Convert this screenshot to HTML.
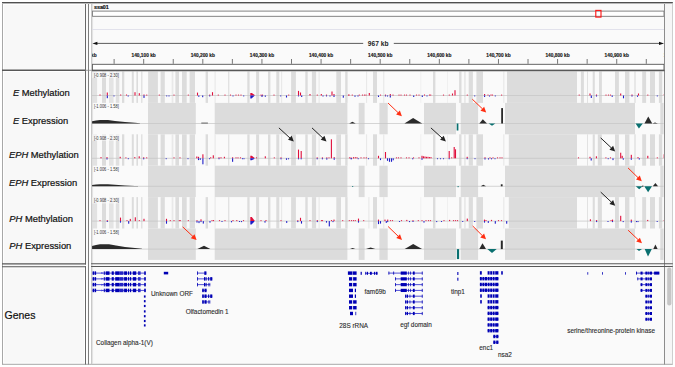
<!DOCTYPE html>
<html><head><meta charset="utf-8"><style>
html,body{margin:0;padding:0;background:#fff;overflow:hidden;}
svg{display:block;font-family:"Liberation Sans",sans-serif;}
</style></head><body>
<svg width="675" height="367" viewBox="0 0 675 367">
<defs><clipPath id="dclip"><rect x="92" y="3" width="571.6" height="360"/></clipPath></defs>
<rect x="0" y="0" width="675" height="367" fill="#ffffff"/>
<rect x="2" y="2" width="83.5" height="362.5" fill="#f8f8f8"/>
<rect x="91.5" y="2" width="573" height="362.5" fill="#fafafa"/>
<line x1="92.6" y1="4" x2="92.6" y2="363.5" stroke="#e4e4e4" stroke-width="1" />
<rect x="665" y="2" width="7.5" height="362.5" fill="#f6f6f6"/>
<rect x="92.5" y="11.1" width="571.5" height="5.2" fill="#ffffff" stroke="#777" stroke-width="0.9"/>
<rect x="595.8" y="10.4" width="5.2" height="6.7" fill="none" stroke="#ff1010" stroke-width="1.1"/>
<text x="94.0" y="9.0" font-size="5.4" font-weight="bold" fill="#111" stroke="#111" stroke-width="0.2" textLength="14.8" lengthAdjust="spacingAndGlyphs">ssa01</text>
<line x1="92" y1="29.5" x2="664" y2="29.5" stroke="#e2e2ec" stroke-width="1"/>
<line x1="95" y1="43.4" x2="363.2" y2="43.4" stroke="#333" stroke-width="0.8"/>
<line x1="393.8" y1="43.4" x2="661" y2="43.4" stroke="#333" stroke-width="0.8"/>
<path d="M92.4,43.4 L97.4,41.8 L97.4,45.0 Z" fill="#111"/>
<path d="M664,43.4 L659,41.8 L659,45.0 Z" fill="#111"/>
<text x="378.2" y="45.7" font-size="6.65" font-weight="bold" fill="#222" text-anchor="middle">967 kb</text>
<g clip-path="url(#dclip)">
<text x="84.55" y="56.6" font-size="4.8" font-weight="bold" fill="#1a1a1a" stroke="#1a1a1a" stroke-width="0.15" text-anchor="middle">140,000 kb</text>
<line x1="114.11" y1="59" x2="114.11" y2="63.8" stroke="#555" stroke-width="0.8"/>
<line x1="143.68" y1="59" x2="143.68" y2="63.8" stroke="#555" stroke-width="0.8"/>
<text x="143.68" y="56.6" font-size="4.8" font-weight="bold" fill="#1a1a1a" stroke="#1a1a1a" stroke-width="0.15" text-anchor="middle">140,100 kb</text>
<line x1="173.24" y1="59" x2="173.24" y2="63.8" stroke="#555" stroke-width="0.8"/>
<line x1="202.81" y1="59" x2="202.81" y2="63.8" stroke="#555" stroke-width="0.8"/>
<text x="202.81" y="56.6" font-size="4.8" font-weight="bold" fill="#1a1a1a" stroke="#1a1a1a" stroke-width="0.15" text-anchor="middle">140,200 kb</text>
<line x1="232.37" y1="59" x2="232.37" y2="63.8" stroke="#555" stroke-width="0.8"/>
<line x1="261.94" y1="59" x2="261.94" y2="63.8" stroke="#555" stroke-width="0.8"/>
<text x="261.94" y="56.6" font-size="4.8" font-weight="bold" fill="#1a1a1a" stroke="#1a1a1a" stroke-width="0.15" text-anchor="middle">140,300 kb</text>
<line x1="291.50" y1="59" x2="291.50" y2="63.8" stroke="#555" stroke-width="0.8"/>
<line x1="321.07" y1="59" x2="321.07" y2="63.8" stroke="#555" stroke-width="0.8"/>
<text x="321.07" y="56.6" font-size="4.8" font-weight="bold" fill="#1a1a1a" stroke="#1a1a1a" stroke-width="0.15" text-anchor="middle">140,400 kb</text>
<line x1="350.63" y1="59" x2="350.63" y2="63.8" stroke="#555" stroke-width="0.8"/>
<line x1="380.20" y1="59" x2="380.20" y2="63.8" stroke="#555" stroke-width="0.8"/>
<text x="380.20" y="56.6" font-size="4.8" font-weight="bold" fill="#1a1a1a" stroke="#1a1a1a" stroke-width="0.15" text-anchor="middle">140,500 kb</text>
<line x1="409.76" y1="59" x2="409.76" y2="63.8" stroke="#555" stroke-width="0.8"/>
<line x1="439.33" y1="59" x2="439.33" y2="63.8" stroke="#555" stroke-width="0.8"/>
<text x="439.33" y="56.6" font-size="4.8" font-weight="bold" fill="#1a1a1a" stroke="#1a1a1a" stroke-width="0.15" text-anchor="middle">140,600 kb</text>
<line x1="468.89" y1="59" x2="468.89" y2="63.8" stroke="#555" stroke-width="0.8"/>
<line x1="498.46" y1="59" x2="498.46" y2="63.8" stroke="#555" stroke-width="0.8"/>
<text x="498.46" y="56.6" font-size="4.8" font-weight="bold" fill="#1a1a1a" stroke="#1a1a1a" stroke-width="0.15" text-anchor="middle">140,700 kb</text>
<line x1="528.02" y1="59" x2="528.02" y2="63.8" stroke="#555" stroke-width="0.8"/>
<line x1="557.59" y1="59" x2="557.59" y2="63.8" stroke="#555" stroke-width="0.8"/>
<text x="557.59" y="56.6" font-size="4.8" font-weight="bold" fill="#1a1a1a" stroke="#1a1a1a" stroke-width="0.15" text-anchor="middle">140,800 kb</text>
<line x1="587.15" y1="59" x2="587.15" y2="63.8" stroke="#555" stroke-width="0.8"/>
<line x1="616.72" y1="59" x2="616.72" y2="63.8" stroke="#555" stroke-width="0.8"/>
<text x="616.72" y="56.6" font-size="4.8" font-weight="bold" fill="#1a1a1a" stroke="#1a1a1a" stroke-width="0.15" text-anchor="middle">140,900 kb</text>
<line x1="646.29" y1="59" x2="646.29" y2="63.8" stroke="#555" stroke-width="0.8"/>
<text x="675.85" y="56.6" font-size="4.8" font-weight="bold" fill="#1a1a1a" stroke="#1a1a1a" stroke-width="0.15" text-anchor="middle">141,000 kb</text>
</g>
<rect x="92.5" y="64.3" width="571.5" height="6" fill="#ffffff" stroke="#555" stroke-width="0.9"/>
<g clip-path="url(#dclip)">
<rect x="91.8" y="71.50" width="5.30" height="31.40" fill="#e2e2e2"/>
<rect x="102" y="71.50" width="4.00" height="31.40" fill="#dcdcdc"/>
<rect x="109" y="71.50" width="4.60" height="31.40" fill="#e4e4e4"/>
<rect x="115.8" y="71.50" width="3.50" height="31.40" fill="#e0e0e0"/>
<rect x="122" y="71.50" width="2.30" height="31.40" fill="#dcdcdc"/>
<rect x="131.8" y="71.50" width="2.00" height="31.40" fill="#dcdcdc"/>
<rect x="136.4" y="71.50" width="1.60" height="31.40" fill="#dcdcdc"/>
<rect x="141.2" y="71.50" width="1.20" height="31.40" fill="#dcdcdc"/>
<rect x="148.1" y="71.50" width="9.80" height="31.40" fill="#dcdcdc"/>
<rect x="160.6" y="71.50" width="4.20" height="31.40" fill="#dcdcdc"/>
<rect x="171.7" y="71.50" width="1.70" height="31.40" fill="#e9e9e9"/>
<rect x="175.4" y="71.50" width="3.60" height="31.40" fill="#dcdcdc"/>
<rect x="182" y="71.50" width="4.70" height="31.40" fill="#dcdcdc"/>
<rect x="189.6" y="71.50" width="5.40" height="31.40" fill="#dcdcdc"/>
<rect x="205.6" y="71.50" width="2.40" height="31.40" fill="#dcdcdc"/>
<rect x="214.5" y="71.50" width="1.20" height="31.40" fill="#e9e9e9"/>
<rect x="228.2" y="71.50" width="1.10" height="31.40" fill="#dcdcdc"/>
<rect x="247.3" y="71.50" width="2.30" height="31.40" fill="#dcdcdc"/>
<rect x="256.1" y="71.50" width="3.00" height="31.40" fill="#dcdcdc"/>
<rect x="268" y="71.50" width="2.40" height="31.40" fill="#dcdcdc"/>
<rect x="276.3" y="71.50" width="3.00" height="31.40" fill="#dcdcdc"/>
<rect x="281" y="71.50" width="1.20" height="31.40" fill="#e9e9e9"/>
<rect x="291.1" y="71.50" width="4.80" height="31.40" fill="#dcdcdc"/>
<rect x="305.3" y="71.50" width="2.40" height="31.40" fill="#dcdcdc"/>
<rect x="311.9" y="71.50" width="4.20" height="31.40" fill="#dcdcdc"/>
<rect x="318.5" y="71.50" width="1.20" height="31.40" fill="#e9e9e9"/>
<rect x="336.3" y="71.50" width="4.70" height="31.40" fill="#dcdcdc"/>
<rect x="345.2" y="71.50" width="2.40" height="31.40" fill="#dcdcdc"/>
<rect x="366" y="71.50" width="1.10" height="31.40" fill="#e9e9e9"/>
<rect x="373" y="71.50" width="4.00" height="31.40" fill="#dcdcdc"/>
<rect x="383.1" y="71.50" width="1.20" height="31.40" fill="#e9e9e9"/>
<rect x="420.6" y="71.50" width="0.60" height="31.40" fill="#e9e9e9"/>
<rect x="433" y="71.50" width="2.40" height="31.40" fill="#dcdcdc"/>
<rect x="447.3" y="71.50" width="0.60" height="31.40" fill="#e9e9e9"/>
<rect x="459.1" y="71.50" width="2.40" height="31.40" fill="#dcdcdc"/>
<rect x="464" y="71.50" width="1.80" height="31.40" fill="#e9e9e9"/>
<rect x="468.7" y="71.50" width="4.20" height="31.40" fill="#dcdcdc"/>
<rect x="476.4" y="71.50" width="6.60" height="31.40" fill="#dcdcdc"/>
<rect x="503.2" y="71.50" width="1.20" height="31.40" fill="#e9e9e9"/>
<rect x="507" y="71.50" width="70.00" height="31.40" fill="#dcdcdc"/>
<rect x="580.9" y="71.50" width="3.00" height="31.40" fill="#dcdcdc"/>
<rect x="587.2" y="71.50" width="0.80" height="31.40" fill="#dcdcdc"/>
<rect x="592.7" y="71.50" width="2.10" height="31.40" fill="#dcdcdc"/>
<rect x="599" y="71.50" width="2.90" height="31.40" fill="#dcdcdc"/>
<rect x="615" y="71.50" width="3.90" height="31.40" fill="#dcdcdc"/>
<rect x="625" y="71.50" width="4.40" height="31.40" fill="#dcdcdc"/>
<rect x="634.4" y="71.50" width="1.20" height="31.40" fill="#dcdcdc"/>
<rect x="642.2" y="71.50" width="3.90" height="31.40" fill="#dcdcdc"/>
<rect x="650" y="71.50" width="5.00" height="31.40" fill="#dcdcdc"/>
<rect x="658.9" y="71.50" width="3.30" height="31.40" fill="#dcdcdc"/>
<rect x="148" y="102.90" width="47.80" height="31.40" fill="#dcdcdc"/>
<rect x="214.7" y="102.90" width="132.70" height="31.40" fill="#dcdcdc"/>
<rect x="358.7" y="102.90" width="5.90" height="31.40" fill="#dcdcdc"/>
<rect x="379.4" y="102.90" width="8.30" height="31.40" fill="#dcdcdc"/>
<rect x="424" y="102.90" width="32.00" height="31.40" fill="#dcdcdc"/>
<rect x="460.7" y="102.90" width="17.40" height="31.40" fill="#dcdcdc"/>
<rect x="505" y="102.90" width="130.00" height="31.40" fill="#dcdcdc"/>
<rect x="660.3" y="102.90" width="3.70" height="31.40" fill="#dcdcdc"/>
<line x1="92" y1="95.50" x2="664" y2="95.50" stroke="#c4c4c4" stroke-width="0.7"/>
<line x1="92" y1="123.50" x2="664" y2="123.50" stroke="#c4c4c4" stroke-width="0.7"/>
<rect x="92" y="71.50" width="27.6" height="6.4" fill="#fbfbfb" fill-opacity="0.6"/>
<text x="93.9" y="76.70" font-size="4.6" fill="#333" textLength="24.9" lengthAdjust="spacingAndGlyphs">[-0.908 - 2.30]</text>
<text x="93.9" y="108.10" font-size="4.6" fill="#333" textLength="24.9" lengthAdjust="spacingAndGlyphs">[-1.006 - 1.58]</text>
<rect x="91.8" y="134.30" width="5.30" height="31.40" fill="#e2e2e2"/>
<rect x="102" y="134.30" width="4.00" height="31.40" fill="#dcdcdc"/>
<rect x="109" y="134.30" width="4.60" height="31.40" fill="#e4e4e4"/>
<rect x="115.8" y="134.30" width="3.50" height="31.40" fill="#e0e0e0"/>
<rect x="122" y="134.30" width="2.30" height="31.40" fill="#dcdcdc"/>
<rect x="131.8" y="134.30" width="2.00" height="31.40" fill="#dcdcdc"/>
<rect x="136.4" y="134.30" width="1.60" height="31.40" fill="#dcdcdc"/>
<rect x="141.2" y="134.30" width="1.20" height="31.40" fill="#dcdcdc"/>
<rect x="148.1" y="134.30" width="9.80" height="31.40" fill="#dcdcdc"/>
<rect x="160.6" y="134.30" width="4.20" height="31.40" fill="#dcdcdc"/>
<rect x="171.7" y="134.30" width="1.70" height="31.40" fill="#e9e9e9"/>
<rect x="175.4" y="134.30" width="3.60" height="31.40" fill="#dcdcdc"/>
<rect x="182" y="134.30" width="4.70" height="31.40" fill="#dcdcdc"/>
<rect x="189.6" y="134.30" width="5.40" height="31.40" fill="#dcdcdc"/>
<rect x="205.6" y="134.30" width="2.40" height="31.40" fill="#dcdcdc"/>
<rect x="214.5" y="134.30" width="1.20" height="31.40" fill="#e9e9e9"/>
<rect x="228.2" y="134.30" width="1.10" height="31.40" fill="#dcdcdc"/>
<rect x="247.3" y="134.30" width="2.30" height="31.40" fill="#dcdcdc"/>
<rect x="256.1" y="134.30" width="3.00" height="31.40" fill="#dcdcdc"/>
<rect x="268" y="134.30" width="2.40" height="31.40" fill="#dcdcdc"/>
<rect x="276.3" y="134.30" width="3.00" height="31.40" fill="#dcdcdc"/>
<rect x="281" y="134.30" width="1.20" height="31.40" fill="#e9e9e9"/>
<rect x="291.1" y="134.30" width="4.80" height="31.40" fill="#dcdcdc"/>
<rect x="305.3" y="134.30" width="2.40" height="31.40" fill="#dcdcdc"/>
<rect x="311.9" y="134.30" width="4.20" height="31.40" fill="#dcdcdc"/>
<rect x="318.5" y="134.30" width="1.20" height="31.40" fill="#e9e9e9"/>
<rect x="336.3" y="134.30" width="4.70" height="31.40" fill="#dcdcdc"/>
<rect x="345.2" y="134.30" width="2.40" height="31.40" fill="#dcdcdc"/>
<rect x="366" y="134.30" width="1.10" height="31.40" fill="#e9e9e9"/>
<rect x="373" y="134.30" width="4.00" height="31.40" fill="#dcdcdc"/>
<rect x="383.1" y="134.30" width="1.20" height="31.40" fill="#e9e9e9"/>
<rect x="420.6" y="134.30" width="0.60" height="31.40" fill="#e9e9e9"/>
<rect x="433" y="134.30" width="2.40" height="31.40" fill="#dcdcdc"/>
<rect x="447.3" y="134.30" width="0.60" height="31.40" fill="#e9e9e9"/>
<rect x="459.1" y="134.30" width="2.40" height="31.40" fill="#dcdcdc"/>
<rect x="464" y="134.30" width="1.80" height="31.40" fill="#e9e9e9"/>
<rect x="468.7" y="134.30" width="4.20" height="31.40" fill="#dcdcdc"/>
<rect x="476.4" y="134.30" width="6.60" height="31.40" fill="#dcdcdc"/>
<rect x="503.2" y="134.30" width="1.20" height="31.40" fill="#e9e9e9"/>
<rect x="508.8" y="134.30" width="68.20" height="31.40" fill="#dcdcdc"/>
<rect x="587.2" y="134.30" width="0.80" height="31.40" fill="#dcdcdc"/>
<rect x="592.7" y="134.30" width="2.10" height="31.40" fill="#dcdcdc"/>
<rect x="597.8" y="134.30" width="4.10" height="31.40" fill="#dcdcdc"/>
<rect x="615" y="134.30" width="3.90" height="31.40" fill="#dcdcdc"/>
<rect x="625" y="134.30" width="4.40" height="31.40" fill="#dcdcdc"/>
<rect x="634.4" y="134.30" width="1.20" height="31.40" fill="#dcdcdc"/>
<rect x="642.2" y="134.30" width="3.90" height="31.40" fill="#dcdcdc"/>
<rect x="650" y="134.30" width="5.00" height="31.40" fill="#dcdcdc"/>
<rect x="658.9" y="134.30" width="3.30" height="31.40" fill="#dcdcdc"/>
<rect x="148" y="165.70" width="47.80" height="31.40" fill="#dcdcdc"/>
<rect x="214.7" y="165.70" width="132.70" height="31.40" fill="#dcdcdc"/>
<rect x="358.7" y="165.70" width="5.90" height="31.40" fill="#dcdcdc"/>
<rect x="379.4" y="165.70" width="8.30" height="31.40" fill="#dcdcdc"/>
<rect x="424" y="165.70" width="32.00" height="31.40" fill="#dcdcdc"/>
<rect x="460.7" y="165.70" width="17.40" height="31.40" fill="#dcdcdc"/>
<rect x="505" y="165.70" width="130.00" height="31.40" fill="#dcdcdc"/>
<rect x="660.3" y="165.70" width="3.70" height="31.40" fill="#dcdcdc"/>
<line x1="92" y1="158.30" x2="664" y2="158.30" stroke="#c4c4c4" stroke-width="0.7"/>
<line x1="92" y1="186.30" x2="664" y2="186.30" stroke="#c4c4c4" stroke-width="0.7"/>
<rect x="92" y="134.30" width="27.6" height="6.4" fill="#fbfbfb" fill-opacity="0.6"/>
<text x="93.9" y="139.50" font-size="4.6" fill="#333" textLength="24.9" lengthAdjust="spacingAndGlyphs">[-0.908 - 2.30]</text>
<text x="93.9" y="170.90" font-size="4.6" fill="#333" textLength="24.9" lengthAdjust="spacingAndGlyphs">[-1.006 - 1.58]</text>
<rect x="91.8" y="197.10" width="5.30" height="31.40" fill="#e2e2e2"/>
<rect x="102" y="197.10" width="4.00" height="31.40" fill="#dcdcdc"/>
<rect x="109" y="197.10" width="4.60" height="31.40" fill="#e4e4e4"/>
<rect x="115.8" y="197.10" width="3.50" height="31.40" fill="#e0e0e0"/>
<rect x="122" y="197.10" width="2.30" height="31.40" fill="#dcdcdc"/>
<rect x="131.8" y="197.10" width="2.00" height="31.40" fill="#dcdcdc"/>
<rect x="136.4" y="197.10" width="1.60" height="31.40" fill="#dcdcdc"/>
<rect x="141.2" y="197.10" width="1.20" height="31.40" fill="#dcdcdc"/>
<rect x="148.1" y="197.10" width="9.80" height="31.40" fill="#dcdcdc"/>
<rect x="160.6" y="197.10" width="4.20" height="31.40" fill="#dcdcdc"/>
<rect x="171.7" y="197.10" width="1.70" height="31.40" fill="#e9e9e9"/>
<rect x="175.4" y="197.10" width="3.60" height="31.40" fill="#dcdcdc"/>
<rect x="182" y="197.10" width="4.70" height="31.40" fill="#dcdcdc"/>
<rect x="189.6" y="197.10" width="5.40" height="31.40" fill="#dcdcdc"/>
<rect x="205.6" y="197.10" width="2.40" height="31.40" fill="#dcdcdc"/>
<rect x="214.5" y="197.10" width="1.20" height="31.40" fill="#e9e9e9"/>
<rect x="228.2" y="197.10" width="1.10" height="31.40" fill="#dcdcdc"/>
<rect x="247.3" y="197.10" width="2.30" height="31.40" fill="#dcdcdc"/>
<rect x="256.1" y="197.10" width="3.00" height="31.40" fill="#dcdcdc"/>
<rect x="268" y="197.10" width="2.40" height="31.40" fill="#dcdcdc"/>
<rect x="276.3" y="197.10" width="3.00" height="31.40" fill="#dcdcdc"/>
<rect x="281" y="197.10" width="1.20" height="31.40" fill="#e9e9e9"/>
<rect x="291.1" y="197.10" width="4.80" height="31.40" fill="#dcdcdc"/>
<rect x="305.3" y="197.10" width="2.40" height="31.40" fill="#dcdcdc"/>
<rect x="311.9" y="197.10" width="4.20" height="31.40" fill="#dcdcdc"/>
<rect x="318.5" y="197.10" width="1.20" height="31.40" fill="#e9e9e9"/>
<rect x="336.3" y="197.10" width="4.70" height="31.40" fill="#dcdcdc"/>
<rect x="345.2" y="197.10" width="2.40" height="31.40" fill="#dcdcdc"/>
<rect x="368.3" y="197.10" width="1.20" height="31.40" fill="#e9e9e9"/>
<rect x="373" y="197.10" width="4.00" height="31.40" fill="#dcdcdc"/>
<rect x="383.1" y="197.10" width="1.20" height="31.40" fill="#e9e9e9"/>
<rect x="420.6" y="197.10" width="0.60" height="31.40" fill="#e9e9e9"/>
<rect x="433" y="197.10" width="2.40" height="31.40" fill="#dcdcdc"/>
<rect x="447.3" y="197.10" width="0.60" height="31.40" fill="#e9e9e9"/>
<rect x="459.1" y="197.10" width="2.40" height="31.40" fill="#dcdcdc"/>
<rect x="464" y="197.10" width="1.80" height="31.40" fill="#e9e9e9"/>
<rect x="468.7" y="197.10" width="4.20" height="31.40" fill="#dcdcdc"/>
<rect x="476.4" y="197.10" width="6.60" height="31.40" fill="#dcdcdc"/>
<rect x="503.2" y="197.10" width="1.20" height="31.40" fill="#e9e9e9"/>
<rect x="508.8" y="197.10" width="68.20" height="31.40" fill="#dcdcdc"/>
<rect x="587.2" y="197.10" width="0.80" height="31.40" fill="#dcdcdc"/>
<rect x="592.7" y="197.10" width="2.10" height="31.40" fill="#dcdcdc"/>
<rect x="597.8" y="197.10" width="4.10" height="31.40" fill="#dcdcdc"/>
<rect x="615" y="197.10" width="3.90" height="31.40" fill="#dcdcdc"/>
<rect x="625" y="197.10" width="4.40" height="31.40" fill="#dcdcdc"/>
<rect x="634.4" y="197.10" width="1.20" height="31.40" fill="#dcdcdc"/>
<rect x="642.2" y="197.10" width="3.90" height="31.40" fill="#dcdcdc"/>
<rect x="650" y="197.10" width="5.00" height="31.40" fill="#dcdcdc"/>
<rect x="658.9" y="197.10" width="3.30" height="31.40" fill="#dcdcdc"/>
<rect x="148" y="228.50" width="47.80" height="31.40" fill="#dcdcdc"/>
<rect x="214.7" y="228.50" width="132.70" height="31.40" fill="#dcdcdc"/>
<rect x="358.7" y="228.50" width="5.90" height="31.40" fill="#dcdcdc"/>
<rect x="379.4" y="228.50" width="8.30" height="31.40" fill="#dcdcdc"/>
<rect x="424" y="228.50" width="32.00" height="31.40" fill="#dcdcdc"/>
<rect x="460.7" y="228.50" width="17.40" height="31.40" fill="#dcdcdc"/>
<rect x="505" y="228.50" width="130.00" height="31.40" fill="#dcdcdc"/>
<rect x="660.3" y="228.50" width="3.70" height="31.40" fill="#dcdcdc"/>
<line x1="92" y1="221.10" x2="664" y2="221.10" stroke="#c4c4c4" stroke-width="0.7"/>
<line x1="92" y1="249.10" x2="664" y2="249.10" stroke="#c4c4c4" stroke-width="0.7"/>
<rect x="92" y="197.10" width="27.6" height="6.4" fill="#fbfbfb" fill-opacity="0.6"/>
<text x="93.9" y="202.30" font-size="4.6" fill="#333" textLength="24.9" lengthAdjust="spacingAndGlyphs">[-0.908 - 2.30]</text>
<text x="93.9" y="233.70" font-size="4.6" fill="#333" textLength="24.9" lengthAdjust="spacingAndGlyphs">[-1.006 - 1.58]</text>
</g>
<g clip-path="url(#dclip)">
<rect x="99.45" y="94.50" width="1.1" height="1.00" fill="#e0103c"/>
<rect x="106.75" y="92.50" width="1.1" height="3.00" fill="#e0103c"/>
<rect x="106.75" y="95.50" width="1.1" height="2.70" fill="#1e1ec8"/>
<rect x="113.45" y="95.50" width="1.1" height="0.90" fill="#1e1ec8"/>
<rect x="120.15" y="94.50" width="1.1" height="1.00" fill="#e0103c"/>
<rect x="125.95" y="94.50" width="1.1" height="1.00" fill="#e0103c"/>
<rect x="127.65" y="95.50" width="1.1" height="1.00" fill="#1e1ec8"/>
<rect x="134.45" y="92.20" width="1.1" height="3.30" fill="#e0103c"/>
<rect x="138.75" y="93.20" width="1.1" height="2.30" fill="#e0103c"/>
<rect x="143.45" y="94.50" width="1.1" height="1.00" fill="#e0103c"/>
<rect x="143.45" y="95.50" width="1.1" height="2.40" fill="#1e1ec8"/>
<rect x="146.15" y="94.60" width="1.1" height="0.90" fill="#e0103c"/>
<rect x="158.75" y="94.60" width="1.1" height="0.90" fill="#e0103c"/>
<rect x="166.15" y="95.50" width="1.1" height="0.90" fill="#1e1ec8"/>
<rect x="168.45" y="95.50" width="1.1" height="0.90" fill="#1e1ec8"/>
<rect x="173.45" y="94.60" width="1.1" height="0.90" fill="#e0103c"/>
<rect x="187.75" y="94.60" width="1.1" height="0.90" fill="#e0103c"/>
<rect x="196.95" y="92.60" width="1.1" height="2.90" fill="#e0103c"/>
<rect x="198.25" y="95.50" width="1.1" height="1.30" fill="#1e1ec8"/>
<rect x="202.15" y="95.50" width="1.1" height="1.70" fill="#1e1ec8"/>
<rect x="209.15" y="94.60" width="1.1" height="0.90" fill="#e0103c"/>
<rect x="209.15" y="95.50" width="1.1" height="0.90" fill="#1e1ec8"/>
<rect x="211.95" y="92.20" width="1.1" height="3.30" fill="#e0103c"/>
<rect x="217.75" y="94.60" width="1.1" height="0.90" fill="#e0103c"/>
<rect x="224.45" y="94.60" width="1.1" height="0.90" fill="#e0103c"/>
<rect x="229.95" y="94.60" width="1.1" height="0.90" fill="#e0103c"/>
<rect x="232.45" y="95.50" width="1.1" height="0.90" fill="#1e1ec8"/>
<rect x="235.45" y="94.60" width="1.1" height="0.90" fill="#e0103c"/>
<rect x="237.95" y="94.60" width="1.1" height="0.90" fill="#e0103c"/>
<rect x="240.45" y="94.60" width="1.1" height="0.90" fill="#e0103c"/>
<rect x="243.15" y="95.50" width="1.1" height="0.90" fill="#1e1ec8"/>
<rect x="260.95" y="95.50" width="1.1" height="1.00" fill="#1e1ec8"/>
<rect x="261.95" y="94.60" width="1.1" height="0.90" fill="#e0103c"/>
<rect x="260.45" y="94.60" width="1.1" height="0.90" fill="#e0103c"/>
<rect x="261.95" y="95.50" width="1.1" height="1.00" fill="#1e1ec8"/>
<rect x="264.75" y="95.50" width="1.1" height="1.30" fill="#1e1ec8"/>
<rect x="273.45" y="94.60" width="1.1" height="0.90" fill="#e0103c"/>
<rect x="280.15" y="95.50" width="1.1" height="0.90" fill="#1e1ec8"/>
<rect x="285.95" y="95.50" width="1.1" height="2.00" fill="#1e1ec8"/>
<rect x="288.15" y="94.60" width="1.1" height="0.90" fill="#e0103c"/>
<rect x="297.95" y="90.90" width="1.1" height="4.60" fill="#e0103c"/>
<rect x="297.95" y="95.50" width="1.1" height="0.90" fill="#1e1ec8"/>
<rect x="299.95" y="92.50" width="1.1" height="3.00" fill="#e0103c"/>
<rect x="301.15" y="95.50" width="1.1" height="1.50" fill="#1e1ec8"/>
<rect x="309.45" y="94.00" width="1.1" height="1.50" fill="#e0103c"/>
<rect x="316.75" y="94.60" width="1.1" height="0.90" fill="#e0103c"/>
<rect x="320.75" y="94.00" width="1.1" height="1.50" fill="#e0103c"/>
<rect x="322.45" y="95.50" width="1.1" height="1.00" fill="#1e1ec8"/>
<rect x="325.95" y="94.60" width="1.1" height="0.90" fill="#e0103c"/>
<rect x="325.95" y="95.50" width="1.1" height="0.90" fill="#1e1ec8"/>
<rect x="329.45" y="95.50" width="1.1" height="1.00" fill="#1e1ec8"/>
<rect x="331.45" y="91.50" width="1.1" height="4.00" fill="#e0103c"/>
<rect x="333.45" y="94.00" width="1.1" height="1.50" fill="#e0103c"/>
<rect x="333.45" y="95.50" width="1.1" height="1.50" fill="#1e1ec8"/>
<rect x="342.75" y="95.50" width="1.1" height="2.20" fill="#1e1ec8"/>
<rect x="348.15" y="94.60" width="1.1" height="0.90" fill="#e0103c"/>
<rect x="348.45" y="94.60" width="1.1" height="0.90" fill="#e0103c"/>
<rect x="351.75" y="94.60" width="1.1" height="0.90" fill="#e0103c"/>
<rect x="354.45" y="95.50" width="1.1" height="1.30" fill="#1e1ec8"/>
<rect x="357.45" y="95.50" width="1.1" height="1.00" fill="#1e1ec8"/>
<rect x="358.75" y="94.60" width="1.1" height="0.90" fill="#e0103c"/>
<rect x="361.95" y="94.60" width="1.1" height="0.90" fill="#e0103c"/>
<rect x="363.95" y="94.60" width="1.1" height="0.90" fill="#e0103c"/>
<rect x="365.45" y="94.60" width="1.1" height="0.90" fill="#e0103c"/>
<rect x="368.75" y="93.00" width="1.1" height="2.50" fill="#e0103c"/>
<rect x="377.95" y="95.50" width="1.1" height="1.50" fill="#1e1ec8"/>
<rect x="379.95" y="94.60" width="1.1" height="0.90" fill="#e0103c"/>
<rect x="384.95" y="94.60" width="1.1" height="0.90" fill="#e0103c"/>
<rect x="384.95" y="95.50" width="1.1" height="0.90" fill="#1e1ec8"/>
<rect x="386.95" y="95.50" width="1.1" height="1.00" fill="#1e1ec8"/>
<rect x="389.75" y="94.00" width="1.1" height="1.50" fill="#e0103c"/>
<rect x="389.75" y="95.50" width="1.1" height="2.00" fill="#1e1ec8"/>
<rect x="392.45" y="94.60" width="1.1" height="0.90" fill="#e0103c"/>
<rect x="398.45" y="94.60" width="1.1" height="0.90" fill="#e0103c"/>
<rect x="400.45" y="94.60" width="1.1" height="0.90" fill="#e0103c"/>
<rect x="403.95" y="94.60" width="1.1" height="0.90" fill="#e0103c"/>
<rect x="405.95" y="94.60" width="1.1" height="0.90" fill="#e0103c"/>
<rect x="409.45" y="94.60" width="1.1" height="0.90" fill="#e0103c"/>
<rect x="413.15" y="95.50" width="1.1" height="1.50" fill="#1e1ec8"/>
<rect x="415.95" y="94.60" width="1.1" height="0.90" fill="#e0103c"/>
<rect x="418.45" y="94.60" width="1.1" height="0.90" fill="#e0103c"/>
<rect x="421.75" y="95.50" width="1.1" height="1.50" fill="#1e1ec8"/>
<rect x="423.95" y="94.50" width="1.1" height="1.00" fill="#e0103c"/>
<rect x="426.45" y="95.50" width="1.1" height="0.90" fill="#1e1ec8"/>
<rect x="428.95" y="94.60" width="1.1" height="0.90" fill="#e0103c"/>
<rect x="430.15" y="94.60" width="1.1" height="0.90" fill="#e0103c"/>
<rect x="442.95" y="94.60" width="1.1" height="0.90" fill="#e0103c"/>
<rect x="448.75" y="94.60" width="1.1" height="0.90" fill="#e0103c"/>
<rect x="451.95" y="93.50" width="1.1" height="2.00" fill="#e0103c"/>
<rect x="454.45" y="90.20" width="1.1" height="5.30" fill="#e0103c"/>
<rect x="466.75" y="94.60" width="1.1" height="0.90" fill="#e0103c"/>
<rect x="474.15" y="95.50" width="1.1" height="0.90" fill="#1e1ec8"/>
<rect x="484.05" y="94.00" width="1.1" height="1.50" fill="#e0103c"/>
<rect x="484.05" y="95.50" width="1.1" height="1.50" fill="#1e1ec8"/>
<rect x="487.45" y="94.60" width="1.1" height="0.90" fill="#e0103c"/>
<rect x="488.95" y="95.50" width="1.1" height="1.00" fill="#1e1ec8"/>
<rect x="490.45" y="94.50" width="1.1" height="1.00" fill="#e0103c"/>
<rect x="491.95" y="94.60" width="1.1" height="0.90" fill="#e0103c"/>
<rect x="494.75" y="95.50" width="1.1" height="0.90" fill="#1e1ec8"/>
<rect x="501.05" y="94.60" width="1.1" height="0.90" fill="#e0103c"/>
<rect x="578.65" y="94.60" width="1.1" height="0.90" fill="#e0103c"/>
<rect x="589.45" y="93.50" width="1.1" height="2.00" fill="#e0103c"/>
<rect x="590.75" y="95.50" width="1.1" height="2.50" fill="#1e1ec8"/>
<rect x="595.95" y="94.50" width="1.1" height="1.00" fill="#e0103c"/>
<rect x="595.95" y="95.50" width="1.1" height="1.00" fill="#1e1ec8"/>
<rect x="605.45" y="94.60" width="1.1" height="0.90" fill="#e0103c"/>
<rect x="607.95" y="94.60" width="1.1" height="0.90" fill="#e0103c"/>
<rect x="609.95" y="94.60" width="1.1" height="0.90" fill="#e0103c"/>
<rect x="611.65" y="95.50" width="1.1" height="1.40" fill="#1e1ec8"/>
<rect x="620.15" y="93.50" width="1.1" height="2.00" fill="#e0103c"/>
<rect x="622.95" y="95.50" width="1.1" height="2.80" fill="#1e1ec8"/>
<rect x="631.45" y="94.50" width="1.1" height="1.00" fill="#e0103c"/>
<rect x="631.45" y="95.50" width="1.1" height="1.00" fill="#1e1ec8"/>
<rect x="636.95" y="95.50" width="1.1" height="1.30" fill="#1e1ec8"/>
<rect x="637.95" y="93.50" width="1.1" height="2.00" fill="#e0103c"/>
<rect x="647.25" y="94.60" width="1.1" height="0.90" fill="#e0103c"/>
<rect x="656.75" y="95.50" width="1.1" height="0.90" fill="#1e1ec8"/>
<rect x="663.65" y="94.00" width="1.1" height="1.50" fill="#e0103c"/>
<rect x="100.45" y="157.10" width="1.1" height="1.20" fill="#e0103c"/>
<rect x="106.45" y="157.10" width="1.1" height="1.20" fill="#e0103c"/>
<rect x="106.45" y="158.30" width="1.1" height="1.20" fill="#1e1ec8"/>
<rect x="119.65" y="156.80" width="1.1" height="1.50" fill="#e0103c"/>
<rect x="125.35" y="157.40" width="1.1" height="0.90" fill="#e0103c"/>
<rect x="127.75" y="158.30" width="1.1" height="0.90" fill="#1e1ec8"/>
<rect x="134.25" y="157.10" width="1.1" height="1.20" fill="#e0103c"/>
<rect x="138.65" y="156.30" width="1.1" height="2.00" fill="#e0103c"/>
<rect x="143.15" y="157.30" width="1.1" height="1.00" fill="#e0103c"/>
<rect x="143.15" y="158.30" width="1.1" height="1.00" fill="#1e1ec8"/>
<rect x="146.15" y="157.40" width="1.1" height="0.90" fill="#e0103c"/>
<rect x="165.65" y="158.30" width="1.1" height="0.90" fill="#1e1ec8"/>
<rect x="173.45" y="157.40" width="1.1" height="0.90" fill="#e0103c"/>
<rect x="179.45" y="157.40" width="1.1" height="0.90" fill="#e0103c"/>
<rect x="187.45" y="158.30" width="1.1" height="0.90" fill="#1e1ec8"/>
<rect x="196.25" y="156.50" width="1.1" height="1.80" fill="#e0103c"/>
<rect x="197.95" y="156.80" width="1.1" height="1.50" fill="#e0103c"/>
<rect x="197.95" y="158.30" width="1.1" height="1.80" fill="#1e1ec8"/>
<rect x="199.75" y="158.30" width="1.1" height="1.50" fill="#1e1ec8"/>
<rect x="202.35" y="154.30" width="1.1" height="4.00" fill="#e0103c"/>
<rect x="202.35" y="158.30" width="1.1" height="6.00" fill="#1e1ec8"/>
<rect x="208.95" y="158.30" width="1.1" height="0.90" fill="#1e1ec8"/>
<rect x="210.15" y="157.30" width="1.1" height="1.00" fill="#e0103c"/>
<rect x="212.75" y="155.30" width="1.1" height="3.00" fill="#e0103c"/>
<rect x="218.45" y="157.30" width="1.1" height="1.00" fill="#e0103c"/>
<rect x="218.45" y="158.30" width="1.1" height="0.90" fill="#1e1ec8"/>
<rect x="220.45" y="157.30" width="1.1" height="1.00" fill="#e0103c"/>
<rect x="223.85" y="156.80" width="1.1" height="1.50" fill="#e0103c"/>
<rect x="232.05" y="157.30" width="1.1" height="1.00" fill="#e0103c"/>
<rect x="232.05" y="158.30" width="1.1" height="3.50" fill="#1e1ec8"/>
<rect x="235.45" y="157.40" width="1.1" height="0.90" fill="#e0103c"/>
<rect x="237.45" y="157.40" width="1.1" height="0.90" fill="#e0103c"/>
<rect x="239.95" y="157.40" width="1.1" height="0.90" fill="#e0103c"/>
<rect x="241.95" y="158.30" width="1.1" height="0.90" fill="#1e1ec8"/>
<rect x="243.45" y="158.30" width="1.1" height="0.90" fill="#1e1ec8"/>
<rect x="255.95" y="157.40" width="1.1" height="0.90" fill="#e0103c"/>
<rect x="264.75" y="156.30" width="1.1" height="2.00" fill="#e0103c"/>
<rect x="273.75" y="157.40" width="1.1" height="0.90" fill="#e0103c"/>
<rect x="280.45" y="157.40" width="1.1" height="0.90" fill="#e0103c"/>
<rect x="280.45" y="158.30" width="1.1" height="1.00" fill="#1e1ec8"/>
<rect x="285.95" y="158.30" width="1.1" height="1.50" fill="#1e1ec8"/>
<rect x="287.95" y="158.30" width="1.1" height="1.00" fill="#1e1ec8"/>
<rect x="297.95" y="149.60" width="1.1" height="8.70" fill="#e0103c"/>
<rect x="297.95" y="158.30" width="1.1" height="1.00" fill="#1e1ec8"/>
<rect x="300.65" y="151.00" width="1.1" height="7.30" fill="#e0103c"/>
<rect x="300.65" y="158.30" width="1.1" height="1.00" fill="#1e1ec8"/>
<rect x="316.65" y="157.40" width="1.1" height="0.90" fill="#e0103c"/>
<rect x="316.65" y="158.30" width="1.1" height="1.00" fill="#1e1ec8"/>
<rect x="321.85" y="157.40" width="1.1" height="0.90" fill="#e0103c"/>
<rect x="321.85" y="158.30" width="1.1" height="1.00" fill="#1e1ec8"/>
<rect x="326.25" y="157.40" width="1.1" height="0.90" fill="#e0103c"/>
<rect x="326.25" y="158.30" width="1.1" height="1.30" fill="#1e1ec8"/>
<rect x="328.45" y="157.40" width="1.1" height="0.90" fill="#e0103c"/>
<rect x="330.85" y="139.30" width="1.1" height="19.00" fill="#e0103c"/>
<rect x="333.65" y="157.10" width="1.1" height="1.20" fill="#e0103c"/>
<rect x="333.65" y="158.30" width="1.1" height="1.50" fill="#1e1ec8"/>
<rect x="348.95" y="157.40" width="1.1" height="0.90" fill="#e0103c"/>
<rect x="350.95" y="158.30" width="1.1" height="0.90" fill="#1e1ec8"/>
<rect x="352.95" y="157.40" width="1.1" height="0.90" fill="#e0103c"/>
<rect x="350.45" y="157.40" width="1.1" height="0.90" fill="#e0103c"/>
<rect x="350.45" y="158.30" width="1.1" height="0.90" fill="#1e1ec8"/>
<rect x="353.15" y="157.40" width="1.1" height="0.90" fill="#e0103c"/>
<rect x="354.95" y="157.30" width="1.1" height="1.00" fill="#e0103c"/>
<rect x="356.45" y="157.30" width="1.1" height="1.00" fill="#e0103c"/>
<rect x="357.65" y="158.30" width="1.1" height="0.90" fill="#1e1ec8"/>
<rect x="360.45" y="157.40" width="1.1" height="0.90" fill="#e0103c"/>
<rect x="363.45" y="157.40" width="1.1" height="0.90" fill="#e0103c"/>
<rect x="365.75" y="157.40" width="1.1" height="0.90" fill="#e0103c"/>
<rect x="367.95" y="158.30" width="1.1" height="0.90" fill="#1e1ec8"/>
<rect x="377.95" y="155.80" width="1.1" height="2.50" fill="#e0103c"/>
<rect x="379.95" y="158.30" width="1.1" height="1.80" fill="#1e1ec8"/>
<rect x="384.95" y="152.00" width="1.1" height="6.30" fill="#e0103c"/>
<rect x="386.95" y="158.30" width="1.1" height="2.50" fill="#1e1ec8"/>
<rect x="388.95" y="158.30" width="1.1" height="3.50" fill="#1e1ec8"/>
<rect x="390.95" y="158.30" width="1.1" height="3.50" fill="#1e1ec8"/>
<rect x="392.65" y="158.30" width="1.1" height="2.00" fill="#1e1ec8"/>
<rect x="395.95" y="157.40" width="1.1" height="0.90" fill="#e0103c"/>
<rect x="397.95" y="157.40" width="1.1" height="0.90" fill="#e0103c"/>
<rect x="400.45" y="157.40" width="1.1" height="0.90" fill="#e0103c"/>
<rect x="405.95" y="157.40" width="1.1" height="0.90" fill="#e0103c"/>
<rect x="408.45" y="157.40" width="1.1" height="0.90" fill="#e0103c"/>
<rect x="412.15" y="158.30" width="1.1" height="1.00" fill="#1e1ec8"/>
<rect x="412.95" y="157.40" width="1.1" height="0.90" fill="#e0103c"/>
<rect x="418.45" y="157.40" width="1.1" height="0.90" fill="#e0103c"/>
<rect x="421.45" y="155.80" width="1.1" height="2.50" fill="#e0103c"/>
<rect x="421.45" y="158.30" width="1.1" height="1.50" fill="#1e1ec8"/>
<rect x="422.95" y="156.30" width="1.1" height="2.00" fill="#e0103c"/>
<rect x="424.45" y="156.50" width="1.1" height="1.80" fill="#e0103c"/>
<rect x="425.95" y="156.80" width="1.1" height="1.50" fill="#e0103c"/>
<rect x="427.45" y="156.80" width="1.1" height="1.50" fill="#e0103c"/>
<rect x="428.95" y="157.10" width="1.1" height="1.20" fill="#e0103c"/>
<rect x="430.45" y="157.10" width="1.1" height="1.20" fill="#e0103c"/>
<rect x="436.95" y="158.30" width="1.1" height="0.90" fill="#1e1ec8"/>
<rect x="439.95" y="158.30" width="1.1" height="0.90" fill="#1e1ec8"/>
<rect x="442.95" y="158.30" width="1.1" height="0.90" fill="#1e1ec8"/>
<rect x="448.65" y="151.00" width="1.1" height="7.30" fill="#e0103c"/>
<rect x="448.65" y="158.30" width="1.1" height="0.90" fill="#1e1ec8"/>
<rect x="451.15" y="157.40" width="1.1" height="0.90" fill="#e0103c"/>
<rect x="453.65" y="147.00" width="1.1" height="11.30" fill="#e0103c"/>
<rect x="454.95" y="149.30" width="1.1" height="9.00" fill="#e0103c"/>
<rect x="466.65" y="156.80" width="1.1" height="1.50" fill="#e0103c"/>
<rect x="466.65" y="158.30" width="1.1" height="0.90" fill="#1e1ec8"/>
<rect x="474.45" y="158.30" width="1.1" height="0.90" fill="#1e1ec8"/>
<rect x="484.45" y="157.30" width="1.1" height="1.00" fill="#e0103c"/>
<rect x="484.45" y="158.30" width="1.1" height="1.20" fill="#1e1ec8"/>
<rect x="487.95" y="158.30" width="1.1" height="1.20" fill="#1e1ec8"/>
<rect x="489.45" y="157.40" width="1.1" height="0.90" fill="#e0103c"/>
<rect x="490.95" y="158.30" width="1.1" height="1.00" fill="#1e1ec8"/>
<rect x="492.45" y="157.40" width="1.1" height="0.90" fill="#e0103c"/>
<rect x="494.45" y="158.30" width="1.1" height="0.90" fill="#1e1ec8"/>
<rect x="496.95" y="157.40" width="1.1" height="0.90" fill="#e0103c"/>
<rect x="499.45" y="157.40" width="1.1" height="0.90" fill="#e0103c"/>
<rect x="501.45" y="157.40" width="1.1" height="0.90" fill="#e0103c"/>
<rect x="577.95" y="157.40" width="1.1" height="0.90" fill="#e0103c"/>
<rect x="589.45" y="156.80" width="1.1" height="1.50" fill="#e0103c"/>
<rect x="590.65" y="158.30" width="1.1" height="2.20" fill="#1e1ec8"/>
<rect x="595.85" y="156.30" width="1.1" height="2.00" fill="#e0103c"/>
<rect x="605.35" y="157.40" width="1.1" height="0.90" fill="#e0103c"/>
<rect x="607.65" y="158.30" width="1.1" height="0.90" fill="#1e1ec8"/>
<rect x="609.95" y="157.40" width="1.1" height="0.90" fill="#e0103c"/>
<rect x="612.45" y="158.30" width="1.1" height="1.80" fill="#1e1ec8"/>
<rect x="620.15" y="152.70" width="1.1" height="5.60" fill="#e0103c"/>
<rect x="621.65" y="155.80" width="1.1" height="2.50" fill="#e0103c"/>
<rect x="622.75" y="158.30" width="1.1" height="1.40" fill="#1e1ec8"/>
<rect x="630.75" y="154.80" width="1.1" height="3.50" fill="#e0103c"/>
<rect x="630.75" y="158.30" width="1.1" height="1.50" fill="#1e1ec8"/>
<rect x="637.45" y="157.10" width="1.1" height="1.20" fill="#e0103c"/>
<rect x="638.75" y="158.30" width="1.1" height="1.20" fill="#1e1ec8"/>
<rect x="647.25" y="155.80" width="1.1" height="2.50" fill="#e0103c"/>
<rect x="656.75" y="157.40" width="1.1" height="0.90" fill="#e0103c"/>
<rect x="663.45" y="154.30" width="1.1" height="4.00" fill="#e0103c"/>
<rect x="99.45" y="220.20" width="1.1" height="0.90" fill="#e0103c"/>
<rect x="106.75" y="220.20" width="1.1" height="0.90" fill="#e0103c"/>
<rect x="106.75" y="221.10" width="1.1" height="0.90" fill="#1e1ec8"/>
<rect x="119.95" y="217.60" width="1.1" height="3.50" fill="#e0103c"/>
<rect x="119.95" y="221.10" width="1.1" height="1.50" fill="#1e1ec8"/>
<rect x="126.45" y="220.20" width="1.1" height="0.90" fill="#e0103c"/>
<rect x="128.15" y="221.10" width="1.1" height="2.60" fill="#1e1ec8"/>
<rect x="129.75" y="218.90" width="1.1" height="2.20" fill="#e0103c"/>
<rect x="134.75" y="217.30" width="1.1" height="3.80" fill="#e0103c"/>
<rect x="138.75" y="220.20" width="1.1" height="0.90" fill="#e0103c"/>
<rect x="143.45" y="218.80" width="1.1" height="2.30" fill="#e0103c"/>
<rect x="165.95" y="218.80" width="1.1" height="2.30" fill="#e0103c"/>
<rect x="165.95" y="221.10" width="1.1" height="2.60" fill="#1e1ec8"/>
<rect x="169.75" y="220.20" width="1.1" height="0.90" fill="#e0103c"/>
<rect x="173.45" y="220.20" width="1.1" height="0.90" fill="#e0103c"/>
<rect x="178.75" y="220.20" width="1.1" height="0.90" fill="#e0103c"/>
<rect x="179.75" y="220.20" width="1.1" height="0.90" fill="#e0103c"/>
<rect x="187.75" y="220.20" width="1.1" height="0.90" fill="#e0103c"/>
<rect x="196.45" y="220.20" width="1.1" height="0.90" fill="#e0103c"/>
<rect x="196.45" y="221.10" width="1.1" height="1.50" fill="#1e1ec8"/>
<rect x="198.45" y="221.10" width="1.1" height="2.00" fill="#1e1ec8"/>
<rect x="200.45" y="219.30" width="1.1" height="1.80" fill="#e0103c"/>
<rect x="200.45" y="221.10" width="1.1" height="1.00" fill="#1e1ec8"/>
<rect x="202.75" y="221.10" width="1.1" height="2.50" fill="#1e1ec8"/>
<rect x="209.45" y="221.10" width="1.1" height="1.50" fill="#1e1ec8"/>
<rect x="211.45" y="220.20" width="1.1" height="0.90" fill="#e0103c"/>
<rect x="212.95" y="220.10" width="1.1" height="1.00" fill="#e0103c"/>
<rect x="218.95" y="220.20" width="1.1" height="0.90" fill="#e0103c"/>
<rect x="221.45" y="221.10" width="1.1" height="0.90" fill="#1e1ec8"/>
<rect x="224.45" y="220.20" width="1.1" height="0.90" fill="#e0103c"/>
<rect x="230.95" y="221.10" width="1.1" height="1.20" fill="#1e1ec8"/>
<rect x="232.45" y="220.10" width="1.1" height="1.00" fill="#e0103c"/>
<rect x="236.25" y="220.10" width="1.1" height="1.00" fill="#e0103c"/>
<rect x="238.95" y="221.10" width="1.1" height="0.90" fill="#1e1ec8"/>
<rect x="240.95" y="221.10" width="1.1" height="1.00" fill="#1e1ec8"/>
<rect x="242.95" y="220.20" width="1.1" height="0.90" fill="#e0103c"/>
<rect x="260.45" y="220.20" width="1.1" height="0.90" fill="#e0103c"/>
<rect x="264.45" y="221.10" width="1.1" height="1.50" fill="#1e1ec8"/>
<rect x="265.45" y="220.10" width="1.1" height="1.00" fill="#e0103c"/>
<rect x="280.45" y="220.20" width="1.1" height="0.90" fill="#e0103c"/>
<rect x="286.15" y="221.10" width="1.1" height="1.80" fill="#1e1ec8"/>
<rect x="297.25" y="220.20" width="1.1" height="0.90" fill="#e0103c"/>
<rect x="297.25" y="221.10" width="1.1" height="1.00" fill="#1e1ec8"/>
<rect x="299.95" y="217.80" width="1.1" height="3.30" fill="#e0103c"/>
<rect x="300.95" y="221.10" width="1.1" height="2.50" fill="#1e1ec8"/>
<rect x="309.45" y="220.20" width="1.1" height="0.90" fill="#e0103c"/>
<rect x="316.75" y="220.10" width="1.1" height="1.00" fill="#e0103c"/>
<rect x="316.75" y="221.10" width="1.1" height="1.00" fill="#1e1ec8"/>
<rect x="320.95" y="220.20" width="1.1" height="0.90" fill="#e0103c"/>
<rect x="321.95" y="220.20" width="1.1" height="0.90" fill="#e0103c"/>
<rect x="325.95" y="221.10" width="1.1" height="1.50" fill="#1e1ec8"/>
<rect x="328.75" y="221.10" width="1.1" height="5.30" fill="#1e1ec8"/>
<rect x="330.95" y="220.10" width="1.1" height="1.00" fill="#e0103c"/>
<rect x="332.45" y="221.10" width="1.1" height="1.00" fill="#1e1ec8"/>
<rect x="333.45" y="219.60" width="1.1" height="1.50" fill="#e0103c"/>
<rect x="342.15" y="220.20" width="1.1" height="0.90" fill="#e0103c"/>
<rect x="348.75" y="220.20" width="1.1" height="0.90" fill="#e0103c"/>
<rect x="350.95" y="220.20" width="1.1" height="0.90" fill="#e0103c"/>
<rect x="352.95" y="220.20" width="1.1" height="0.90" fill="#e0103c"/>
<rect x="354.75" y="220.20" width="1.1" height="0.90" fill="#e0103c"/>
<rect x="357.95" y="218.60" width="1.1" height="2.50" fill="#e0103c"/>
<rect x="357.95" y="221.10" width="1.1" height="1.50" fill="#1e1ec8"/>
<rect x="363.15" y="220.20" width="1.1" height="0.90" fill="#e0103c"/>
<rect x="377.95" y="219.60" width="1.1" height="1.50" fill="#e0103c"/>
<rect x="377.95" y="221.10" width="1.1" height="3.00" fill="#1e1ec8"/>
<rect x="379.95" y="221.10" width="1.1" height="2.50" fill="#1e1ec8"/>
<rect x="384.45" y="219.60" width="1.1" height="1.50" fill="#e0103c"/>
<rect x="385.75" y="221.10" width="1.1" height="1.80" fill="#1e1ec8"/>
<rect x="387.15" y="219.60" width="1.1" height="1.50" fill="#e0103c"/>
<rect x="387.15" y="221.10" width="1.1" height="1.00" fill="#1e1ec8"/>
<rect x="389.95" y="220.20" width="1.1" height="0.90" fill="#e0103c"/>
<rect x="391.95" y="220.20" width="1.1" height="0.90" fill="#e0103c"/>
<rect x="398.95" y="221.10" width="1.1" height="0.90" fill="#1e1ec8"/>
<rect x="400.95" y="220.20" width="1.1" height="0.90" fill="#e0103c"/>
<rect x="406.25" y="219.90" width="1.1" height="1.20" fill="#e0103c"/>
<rect x="408.95" y="221.10" width="1.1" height="1.00" fill="#1e1ec8"/>
<rect x="412.45" y="220.20" width="1.1" height="0.90" fill="#e0103c"/>
<rect x="412.45" y="221.10" width="1.1" height="0.90" fill="#1e1ec8"/>
<rect x="417.75" y="220.20" width="1.1" height="0.90" fill="#e0103c"/>
<rect x="421.45" y="220.20" width="1.1" height="0.90" fill="#e0103c"/>
<rect x="423.45" y="221.10" width="1.1" height="1.50" fill="#1e1ec8"/>
<rect x="425.45" y="220.20" width="1.1" height="0.90" fill="#e0103c"/>
<rect x="427.95" y="220.20" width="1.1" height="0.90" fill="#e0103c"/>
<rect x="429.95" y="220.20" width="1.1" height="0.90" fill="#e0103c"/>
<rect x="436.15" y="221.10" width="1.1" height="1.00" fill="#1e1ec8"/>
<rect x="440.95" y="221.10" width="1.1" height="0.90" fill="#1e1ec8"/>
<rect x="443.45" y="220.20" width="1.1" height="0.90" fill="#e0103c"/>
<rect x="449.05" y="219.90" width="1.1" height="1.20" fill="#e0103c"/>
<rect x="452.95" y="220.20" width="1.1" height="0.90" fill="#e0103c"/>
<rect x="454.95" y="220.20" width="1.1" height="0.90" fill="#e0103c"/>
<rect x="456.95" y="220.20" width="1.1" height="0.90" fill="#e0103c"/>
<rect x="462.15" y="221.10" width="1.1" height="0.90" fill="#1e1ec8"/>
<rect x="466.75" y="218.60" width="1.1" height="2.50" fill="#e0103c"/>
<rect x="474.15" y="221.10" width="1.1" height="0.90" fill="#1e1ec8"/>
<rect x="483.95" y="219.60" width="1.1" height="1.50" fill="#e0103c"/>
<rect x="483.95" y="221.10" width="1.1" height="1.50" fill="#1e1ec8"/>
<rect x="485.45" y="220.10" width="1.1" height="1.00" fill="#e0103c"/>
<rect x="487.75" y="221.10" width="1.1" height="1.80" fill="#1e1ec8"/>
<rect x="490.95" y="219.90" width="1.1" height="1.20" fill="#e0103c"/>
<rect x="494.75" y="221.10" width="1.1" height="2.60" fill="#1e1ec8"/>
<rect x="497.95" y="220.20" width="1.1" height="0.90" fill="#e0103c"/>
<rect x="500.95" y="220.20" width="1.1" height="0.90" fill="#e0103c"/>
<rect x="506.15" y="221.10" width="1.1" height="2.60" fill="#1e1ec8"/>
<rect x="589.85" y="219.30" width="1.1" height="1.80" fill="#e0103c"/>
<rect x="596.05" y="220.10" width="1.1" height="1.00" fill="#e0103c"/>
<rect x="596.05" y="221.10" width="1.1" height="1.00" fill="#1e1ec8"/>
<rect x="607.45" y="221.10" width="1.1" height="0.90" fill="#1e1ec8"/>
<rect x="610.45" y="220.20" width="1.1" height="0.90" fill="#e0103c"/>
<rect x="611.95" y="219.60" width="1.1" height="1.50" fill="#e0103c"/>
<rect x="611.95" y="221.10" width="1.1" height="1.00" fill="#1e1ec8"/>
<rect x="620.15" y="215.80" width="1.1" height="5.30" fill="#e0103c"/>
<rect x="622.65" y="221.10" width="1.1" height="1.00" fill="#1e1ec8"/>
<rect x="630.75" y="219.60" width="1.1" height="1.50" fill="#e0103c"/>
<rect x="630.75" y="221.10" width="1.1" height="1.50" fill="#1e1ec8"/>
<rect x="635.95" y="221.10" width="1.1" height="1.00" fill="#1e1ec8"/>
<rect x="637.45" y="221.10" width="1.1" height="1.00" fill="#1e1ec8"/>
<rect x="647.15" y="219.90" width="1.1" height="1.20" fill="#e0103c"/>
<rect x="656.65" y="221.10" width="1.1" height="0.90" fill="#1e1ec8"/>
<rect x="663.45" y="220.10" width="1.1" height="1.00" fill="#e0103c"/>
<path d="M250.3,95.50 L250.3,92.90 L251.8,92.90 L254.7,95.10 L254.7,95.50 Z" fill="#e0103c"/>
<path d="M250.3,95.50 L250.3,98.50 L251.5,98.50 L254.3,96.10 L254.3,95.50 Z" fill="#1e1ec8"/>
<path d="M250.3,158.30 L250.3,155.70 L251.8,155.70 L254.7,157.90 L254.7,158.30 Z" fill="#e0103c"/>
<path d="M250.3,158.30 L250.3,160.30 L251.5,160.30 L254.3,158.90 L254.3,158.30 Z" fill="#1e1ec8"/>
<path d="M250.3,221.10 L250.3,217.10 L251.8,217.10 L254.7,220.70 L254.7,221.10 Z" fill="#e0103c"/>
<path d="M250.3,221.10 L250.3,224.60 L251.5,224.60 L254.3,221.70 L254.3,221.10 Z" fill="#1e1ec8"/>
</g>
<g clip-path="url(#dclip)">
<path d="M92.00,123.50 L92.00,121.20 L96.00,120.50 L100.00,120.00 L108.00,120.00 L115.00,120.90 L125.00,121.90 L135.00,122.70 L140.00,123.20 L140.00,123.50 Z" fill="#2a2a2a"/>
<rect x="201.3" y="122.60" width="6.6" height="0.9" fill="#555"/>
<path d="M349.20,123.50 L352.40,121.70 L355.70,123.50 Z" fill="#2a2a2a"/>
<path d="M404.40,123.50 L413.10,118.10 L422.20,123.50 Z" fill="#2a2a2a"/>
<rect x="456.7" y="123.50" width="1.7" height="7" fill="#0a7070"/>
<path d="M479.30,123.50 L482.80,119.20 L487.00,123.50 Z" fill="#2a2a2a"/>
<path d="M488.70,123.50 L492.00,125.80 L495.30,123.50 Z" fill="#0a7070"/>
<rect x="501.2" y="108.10" width="1.8" height="15.4" fill="#2a2a2a"/>
<path d="M635.60,123.50 L638.90,128.50 L642.80,123.50 Z" fill="#0a7070"/>
<path d="M644.40,123.50 L648.30,116.40 L652.20,123.50 Z" fill="#2a2a2a"/>
<path d="M652.50,123.50 L655.00,122.50 L657.80,123.50 Z" fill="#2a2a2a"/>
<path d="M92.00,186.30 L92.00,185.00 L96.00,184.50 L100.00,184.30 L108.00,184.30 L115.00,184.80 L125.00,185.40 L135.00,185.90 L138.00,186.10 L138.00,186.30 Z" fill="#2a2a2a"/>
<rect x="352.2" y="186.00" width="1" height="0.9" fill="#0a7070"/>
<rect x="457.6" y="186.00" width="1" height="1.2" fill="#0a7070"/>
<path d="M480.70,186.30 L483.30,184.70 L486.00,186.30 Z" fill="#2a2a2a"/>
<rect x="500.8" y="184.30" width="1.8" height="2" fill="#2a2a2a"/>
<path d="M635.80,186.30 L639.20,189.30 L642.60,186.30 Z" fill="#0a7070"/>
<rect x="642" y="185.70" width="1.5" height="0.9" fill="#2a2a2a"/>
<path d="M644.30,186.30 L648.10,192.30 L652.00,186.30 Z" fill="#0a7070"/>
<path d="M652.80,186.30 L655.40,183.00 L658.00,186.30 Z" fill="#2a2a2a"/>
<path d="M92.00,249.10 L92.00,246.10 L96.00,245.10 L100.00,244.30 L109.00,244.30 L116.00,245.50 L125.00,246.90 L135.00,248.10 L142.00,248.80 L142.00,249.10 Z" fill="#2a2a2a"/>
<path d="M197.40,249.10 L204.00,245.70 L210.30,249.10 Z" fill="#2a2a2a"/>
<path d="M350.00,249.10 L352.60,248.10 L355.30,249.10 Z" fill="#2a2a2a"/>
<path d="M366.00,249.10 L370.60,247.60 L375.30,249.10 Z" fill="#2a2a2a"/>
<path d="M404.70,249.10 L413.20,244.00 L422.00,249.10 Z" fill="#2a2a2a"/>
<rect x="456.9" y="249.10" width="2.2" height="10" fill="#0a7070"/>
<path d="M479.30,249.10 L482.50,243.20 L486.00,249.10 Z" fill="#2a2a2a"/>
<path d="M487.30,249.10 L492.00,253.10 L496.70,249.10 Z" fill="#0a7070"/>
<rect x="500.8" y="240.60" width="2" height="8.5" fill="#2a2a2a"/>
<path d="M636.50,249.10 L639.00,251.10 L642.00,249.10 Z" fill="#0a7070"/>
<path d="M644.70,249.10 L648.00,256.60 L651.80,249.10 Z" fill="#0a7070"/>
<path d="M653.30,249.10 L655.40,244.60 L657.60,249.10 Z" fill="#2a2a2a"/>
</g>
<line x1="388.00" y1="103.00" x2="398.36" y2="112.91" stroke="#ff2e12" stroke-width="1.0"/><path d="M401.90,116.30 L396.13,114.52 L399.86,110.62 Z" fill="#ff2e12"/>
<line x1="472.30" y1="99.20" x2="482.65" y2="109.03" stroke="#ff2e12" stroke-width="1.0"/><path d="M486.20,112.40 L480.43,110.64 L484.14,106.72 Z" fill="#ff2e12"/>
<line x1="628.00" y1="167.90" x2="638.28" y2="177.89" stroke="#ff2e12" stroke-width="1.0"/><path d="M641.80,181.30 L636.04,179.48 L639.81,175.60 Z" fill="#ff2e12"/>
<line x1="182.70" y1="226.90" x2="193.02" y2="236.55" stroke="#ff2e12" stroke-width="1.0"/><path d="M196.60,239.90 L190.81,238.18 L194.50,234.24 Z" fill="#ff2e12"/>
<line x1="388.10" y1="226.50" x2="398.47" y2="236.50" stroke="#ff2e12" stroke-width="1.0"/><path d="M402.00,239.90 L396.24,238.10 L399.99,234.21 Z" fill="#ff2e12"/>
<line x1="472.70" y1="226.00" x2="482.54" y2="235.84" stroke="#ff2e12" stroke-width="1.0"/><path d="M486.00,239.30 L480.27,237.39 L484.09,233.57 Z" fill="#ff2e12"/>
<line x1="628.10" y1="230.20" x2="638.43" y2="239.94" stroke="#ff2e12" stroke-width="1.0"/><path d="M642.00,243.30 L636.22,241.56 L639.92,237.63 Z" fill="#ff2e12"/>
<line x1="278.90" y1="127.90" x2="290.18" y2="138.20" stroke="#222" stroke-width="1.0"/><path d="M293.80,141.50 L287.99,139.85 L291.63,135.87 Z" fill="#222"/>
<line x1="312.00" y1="127.90" x2="322.93" y2="138.15" stroke="#222" stroke-width="1.0"/><path d="M326.50,141.50 L320.71,139.78 L324.41,135.84 Z" fill="#222"/>
<line x1="430.90" y1="127.90" x2="442.27" y2="138.21" stroke="#222" stroke-width="1.0"/><path d="M445.90,141.50 L440.09,139.87 L443.71,135.87 Z" fill="#222"/>
<line x1="600.70" y1="137.90" x2="611.63" y2="148.15" stroke="#222" stroke-width="1.0"/><path d="M615.20,151.50 L609.41,149.78 L613.11,145.84 Z" fill="#222"/>
<line x1="600.70" y1="192.10" x2="611.63" y2="202.35" stroke="#222" stroke-width="1.0"/><path d="M615.20,205.70 L609.41,203.98 L613.11,200.04 Z" fill="#222"/>
<line x1="92.50" y1="273.10" x2="145.50" y2="273.10" stroke="#2626cc" stroke-width="0.8"/>
<rect x="92.60" y="271.35" width="1.70" height="3.50" fill="#0000b4"/>
<rect x="94.80" y="271.35" width="1.30" height="3.50" fill="#0000b4"/>
<rect x="103.80" y="271.35" width="1.00" height="3.50" fill="#0000b4"/>
<rect x="105.70" y="271.35" width="3.80" height="3.50" fill="#0000b4"/>
<rect x="111.70" y="271.35" width="2.10" height="3.50" fill="#0000b4"/>
<rect x="115.20" y="271.35" width="4.40" height="3.50" fill="#0000b4"/>
<rect x="124.10" y="271.35" width="3.00" height="3.50" fill="#0000b4"/>
<rect x="128.00" y="271.35" width="1.20" height="3.50" fill="#0000b4"/>
<rect x="130.00" y="271.35" width="1.20" height="3.50" fill="#0000b4"/>
<rect x="132.80" y="271.35" width="3.40" height="3.50" fill="#0000b4"/>
<rect x="144.20" y="271.35" width="1.60" height="3.50" fill="#0000b4"/>
<rect x="119.60" y="271.35" width="3.80" height="3.50" fill="#2424c4"/>
<rect x="138.00" y="271.35" width="2.60" height="3.50" fill="#2a2ac8"/>
<path d="M101.4,272.10 L103.2,273.10 L101.4,274.10 Z" fill="#3a3ae0"/>
<line x1="92.50" y1="278.87" x2="145.50" y2="278.87" stroke="#2626cc" stroke-width="0.8"/>
<rect x="92.60" y="277.12" width="1.70" height="3.50" fill="#0000b4"/>
<rect x="94.80" y="277.12" width="1.30" height="3.50" fill="#0000b4"/>
<rect x="103.80" y="277.12" width="1.00" height="3.50" fill="#0000b4"/>
<rect x="105.70" y="277.12" width="3.80" height="3.50" fill="#0000b4"/>
<rect x="111.70" y="277.12" width="2.10" height="3.50" fill="#0000b4"/>
<rect x="115.20" y="277.12" width="4.40" height="3.50" fill="#0000b4"/>
<rect x="124.10" y="277.12" width="3.00" height="3.50" fill="#0000b4"/>
<rect x="128.00" y="277.12" width="1.20" height="3.50" fill="#0000b4"/>
<rect x="130.00" y="277.12" width="1.20" height="3.50" fill="#0000b4"/>
<rect x="132.80" y="277.12" width="3.40" height="3.50" fill="#0000b4"/>
<rect x="144.20" y="277.12" width="1.60" height="3.50" fill="#0000b4"/>
<rect x="119.60" y="277.12" width="3.80" height="3.50" fill="#2424c4"/>
<rect x="138.00" y="277.12" width="2.60" height="3.50" fill="#2a2ac8"/>
<path d="M101.4,277.87 L103.2,278.87 L101.4,279.87 Z" fill="#3a3ae0"/>
<line x1="92.50" y1="284.64" x2="145.50" y2="284.64" stroke="#2626cc" stroke-width="0.8"/>
<rect x="92.60" y="282.89" width="1.70" height="3.50" fill="#0000b4"/>
<rect x="94.80" y="282.89" width="1.30" height="3.50" fill="#0000b4"/>
<rect x="103.80" y="282.89" width="1.00" height="3.50" fill="#0000b4"/>
<rect x="105.70" y="282.89" width="3.80" height="3.50" fill="#0000b4"/>
<rect x="111.70" y="282.89" width="2.10" height="3.50" fill="#0000b4"/>
<rect x="115.20" y="282.89" width="4.40" height="3.50" fill="#0000b4"/>
<rect x="124.10" y="282.89" width="3.00" height="3.50" fill="#0000b4"/>
<rect x="128.00" y="282.89" width="1.20" height="3.50" fill="#0000b4"/>
<rect x="130.00" y="282.89" width="1.20" height="3.50" fill="#0000b4"/>
<rect x="132.80" y="282.89" width="3.40" height="3.50" fill="#0000b4"/>
<rect x="144.20" y="282.89" width="1.60" height="3.50" fill="#0000b4"/>
<rect x="119.60" y="282.89" width="3.80" height="3.50" fill="#2424c4"/>
<rect x="138.00" y="282.89" width="2.60" height="3.50" fill="#2a2ac8"/>
<path d="M101.4,283.64 L103.2,284.64 L101.4,285.64 Z" fill="#3a3ae0"/>
<line x1="92.50" y1="290.41" x2="145.50" y2="290.41" stroke="#2626cc" stroke-width="0.8"/>
<rect x="92.60" y="288.66" width="1.70" height="3.50" fill="#0000b4"/>
<rect x="94.80" y="288.66" width="1.30" height="3.50" fill="#0000b4"/>
<rect x="103.80" y="288.66" width="1.00" height="3.50" fill="#0000b4"/>
<rect x="105.70" y="288.66" width="3.80" height="3.50" fill="#0000b4"/>
<rect x="111.70" y="288.66" width="2.10" height="3.50" fill="#0000b4"/>
<rect x="115.20" y="288.66" width="4.40" height="3.50" fill="#0000b4"/>
<rect x="124.10" y="288.66" width="3.00" height="3.50" fill="#0000b4"/>
<rect x="128.00" y="288.66" width="1.20" height="3.50" fill="#0000b4"/>
<rect x="130.00" y="288.66" width="1.20" height="3.50" fill="#0000b4"/>
<rect x="132.80" y="288.66" width="3.40" height="3.50" fill="#0000b4"/>
<rect x="144.20" y="288.66" width="1.60" height="3.50" fill="#0000b4"/>
<rect x="119.60" y="288.66" width="3.80" height="3.50" fill="#2424c4"/>
<rect x="138.00" y="288.66" width="2.60" height="3.50" fill="#2a2ac8"/>
<path d="M101.4,289.41 L103.2,290.41 L101.4,291.41 Z" fill="#3a3ae0"/>
<rect x="143.90" y="295.40" width="1.70" height="2.20" fill="#0000b4"/>
<rect x="143.90" y="300.10" width="1.70" height="2.20" fill="#0000b4"/>
<rect x="143.90" y="304.90" width="1.70" height="2.20" fill="#0000b4"/>
<rect x="143.90" y="310.30" width="1.70" height="2.20" fill="#0000b4"/>
<rect x="143.90" y="315.10" width="1.70" height="2.20" fill="#0000b4"/>
<rect x="143.90" y="319.90" width="1.70" height="2.20" fill="#0000b4"/>
<rect x="143.90" y="324.30" width="1.70" height="2.20" fill="#0000b4"/>
<rect x="163.80" y="271.80" width="4.40" height="2.60" fill="#0000b4"/>
<line x1="197.00" y1="273.10" x2="206.40" y2="273.10" stroke="#2626cc" stroke-width="0.8"/>
<rect x="197.00" y="271.35" width="0.80" height="3.50" fill="#0000b4"/>
<rect x="204.30" y="271.35" width="2.10" height="3.50" fill="#0000b4"/>
<line x1="197.00" y1="278.87" x2="212.30" y2="278.87" stroke="#2626cc" stroke-width="0.8"/>
<rect x="197.00" y="277.12" width="0.80" height="3.50" fill="#0000b4"/>
<rect x="204.00" y="277.12" width="1.20" height="3.50" fill="#0000b4"/>
<rect x="205.60" y="277.12" width="1.00" height="3.50" fill="#0000b4"/>
<rect x="208.10" y="277.12" width="1.10" height="3.50" fill="#0000b4"/>
<rect x="210.20" y="277.12" width="2.10" height="3.50" fill="#0000b4"/>
<line x1="197.00" y1="284.64" x2="210.20" y2="284.64" stroke="#2626cc" stroke-width="0.8"/>
<rect x="197.00" y="282.89" width="0.80" height="3.50" fill="#0000b4"/>
<rect x="204.00" y="282.89" width="1.20" height="3.50" fill="#0000b4"/>
<rect x="205.60" y="282.89" width="1.00" height="3.50" fill="#0000b4"/>
<rect x="208.10" y="282.89" width="0.50" height="3.50" fill="#0000b4"/>
<rect x="209.50" y="282.89" width="0.70" height="3.50" fill="#0000b4"/>
<line x1="202.20" y1="290.41" x2="206.60" y2="290.41" stroke="#2626cc" stroke-width="0.8"/>
<rect x="202.20" y="288.66" width="1.60" height="3.50" fill="#0000b4"/>
<rect x="204.50" y="288.66" width="2.10" height="3.50" fill="#0000b4"/>
<line x1="202.20" y1="296.18" x2="212.30" y2="296.18" stroke="#2626cc" stroke-width="0.8"/>
<rect x="202.20" y="294.43" width="1.60" height="3.50" fill="#0000b4"/>
<rect x="204.50" y="294.43" width="2.10" height="3.50" fill="#0000b4"/>
<rect x="208.10" y="294.43" width="1.10" height="3.50" fill="#0000b4"/>
<rect x="210.20" y="294.43" width="2.10" height="3.50" fill="#0000b4"/>
<line x1="202.20" y1="301.95" x2="210.20" y2="301.95" stroke="#2626cc" stroke-width="0.8"/>
<rect x="202.20" y="300.20" width="1.60" height="3.50" fill="#0000b4"/>
<rect x="204.50" y="300.20" width="2.10" height="3.50" fill="#0000b4"/>
<rect x="208.10" y="300.20" width="0.50" height="3.50" fill="#0000b4"/>
<rect x="209.50" y="300.20" width="0.70" height="3.50" fill="#0000b4"/>
<rect x="347.90" y="271.40" width="4.30" height="3.40" fill="#0000b4"/>
<rect x="352.60" y="271.40" width="4.00" height="3.40" fill="#0000b4"/>
<rect x="349.00" y="277.17" width="3.20" height="3.40" fill="#0000b4"/>
<rect x="353.10" y="277.17" width="3.50" height="3.40" fill="#0000b4"/>
<rect x="349.00" y="282.94" width="3.20" height="3.40" fill="#0000b4"/>
<rect x="353.10" y="282.94" width="3.50" height="3.40" fill="#0000b4"/>
<rect x="349.00" y="288.71" width="4.00" height="3.40" fill="#0000b4"/>
<rect x="354.80" y="288.71" width="1.20" height="3.40" fill="#0000b4"/>
<rect x="349.00" y="294.48" width="4.00" height="3.40" fill="#0000b4"/>
<rect x="354.80" y="294.48" width="1.20" height="3.40" fill="#0000b4"/>
<rect x="349.00" y="300.25" width="3.20" height="3.40" fill="#0000b4"/>
<rect x="353.10" y="300.25" width="3.50" height="3.40" fill="#0000b4"/>
<rect x="349.00" y="306.02" width="3.20" height="3.40" fill="#0000b4"/>
<rect x="353.10" y="306.02" width="3.50" height="3.40" fill="#0000b4"/>
<rect x="350.00" y="311.79" width="3.00" height="3.40" fill="#0000b4"/>
<rect x="355.40" y="311.79" width="0.80" height="3.40" fill="#0000b4"/>
<rect x="360.60" y="271.80" width="1.20" height="3.00" fill="#0000b4"/>
<line x1="365.30" y1="273.30" x2="377.50" y2="273.30" stroke="#2626cc" stroke-width="0.8"/>
<rect x="365.30" y="271.80" width="1.00" height="3.00" fill="#0000b4"/>
<rect x="367.00" y="271.80" width="1.00" height="3.00" fill="#0000b4"/>
<rect x="370.00" y="271.80" width="1.80" height="3.00" fill="#0000b4"/>
<rect x="374.00" y="271.80" width="1.00" height="3.00" fill="#0000b4"/>
<rect x="375.80" y="271.80" width="1.70" height="3.00" fill="#0000b4"/>
<line x1="388.50" y1="273.10" x2="422.50" y2="273.10" stroke="#2626cc" stroke-width="0.8"/>
<rect x="388.50" y="271.50" width="0.80" height="3.20" fill="#0000b4"/>
<rect x="393.30" y="271.50" width="0.80" height="3.20" fill="#0000b4"/>
<rect x="400.70" y="271.50" width="6.10" height="3.20" fill="#0000b4"/>
<rect x="408.30" y="271.50" width="0.70" height="3.20" fill="#0000b4"/>
<rect x="410.00" y="271.50" width="0.70" height="3.20" fill="#0000b4"/>
<rect x="412.90" y="271.50" width="1.80" height="3.20" fill="#0000b4"/>
<rect x="421.80" y="271.50" width="0.80" height="3.20" fill="#0000b4"/>
<line x1="395.10" y1="278.87" x2="422.50" y2="278.87" stroke="#2626cc" stroke-width="0.8"/>
<rect x="395.10" y="277.27" width="0.80" height="3.20" fill="#0000b4"/>
<rect x="400.70" y="277.27" width="6.10" height="3.20" fill="#0000b4"/>
<rect x="408.30" y="277.27" width="0.70" height="3.20" fill="#0000b4"/>
<rect x="410.00" y="277.27" width="0.70" height="3.20" fill="#0000b4"/>
<rect x="412.90" y="277.27" width="1.80" height="3.20" fill="#0000b4"/>
<rect x="421.80" y="277.27" width="0.80" height="3.20" fill="#0000b4"/>
<line x1="395.10" y1="284.64" x2="422.50" y2="284.64" stroke="#2626cc" stroke-width="0.8"/>
<rect x="395.10" y="283.04" width="0.80" height="3.20" fill="#0000b4"/>
<rect x="400.70" y="283.04" width="6.10" height="3.20" fill="#0000b4"/>
<rect x="408.30" y="283.04" width="0.70" height="3.20" fill="#0000b4"/>
<rect x="410.00" y="283.04" width="0.70" height="3.20" fill="#0000b4"/>
<rect x="412.90" y="283.04" width="1.80" height="3.20" fill="#0000b4"/>
<rect x="421.80" y="283.04" width="0.80" height="3.20" fill="#0000b4"/>
<line x1="395.10" y1="290.41" x2="422.50" y2="290.41" stroke="#2626cc" stroke-width="0.8"/>
<rect x="395.10" y="288.81" width="0.80" height="3.20" fill="#0000b4"/>
<rect x="400.70" y="288.81" width="6.10" height="3.20" fill="#0000b4"/>
<rect x="408.30" y="288.81" width="0.70" height="3.20" fill="#0000b4"/>
<rect x="410.00" y="288.81" width="0.70" height="3.20" fill="#0000b4"/>
<rect x="412.90" y="288.81" width="1.80" height="3.20" fill="#0000b4"/>
<rect x="421.80" y="288.81" width="0.80" height="3.20" fill="#0000b4"/>
<line x1="405.10" y1="296.18" x2="422.50" y2="296.18" stroke="#2626cc" stroke-width="0.8"/>
<rect x="405.10" y="294.58" width="1.20" height="3.20" fill="#0000b4"/>
<rect x="406.80" y="294.58" width="1.20" height="3.20" fill="#0000b4"/>
<rect x="409.60" y="294.58" width="0.70" height="3.20" fill="#0000b4"/>
<rect x="412.90" y="294.58" width="1.80" height="3.20" fill="#0000b4"/>
<rect x="421.80" y="294.58" width="0.80" height="3.20" fill="#0000b4"/>
<line x1="405.10" y1="301.95" x2="422.50" y2="301.95" stroke="#2626cc" stroke-width="0.8"/>
<rect x="405.10" y="300.35" width="1.20" height="3.20" fill="#0000b4"/>
<rect x="406.80" y="300.35" width="1.20" height="3.20" fill="#0000b4"/>
<rect x="409.60" y="300.35" width="0.70" height="3.20" fill="#0000b4"/>
<rect x="412.90" y="300.35" width="1.80" height="3.20" fill="#0000b4"/>
<rect x="421.80" y="300.35" width="0.80" height="3.20" fill="#0000b4"/>
<line x1="405.10" y1="307.72" x2="422.50" y2="307.72" stroke="#2626cc" stroke-width="0.8"/>
<rect x="405.10" y="306.12" width="1.20" height="3.20" fill="#0000b4"/>
<rect x="406.80" y="306.12" width="1.20" height="3.20" fill="#0000b4"/>
<rect x="409.60" y="306.12" width="0.70" height="3.20" fill="#0000b4"/>
<rect x="412.90" y="306.12" width="1.80" height="3.20" fill="#0000b4"/>
<rect x="421.80" y="306.12" width="0.80" height="3.20" fill="#0000b4"/>
<line x1="405.10" y1="313.49" x2="422.50" y2="313.49" stroke="#2626cc" stroke-width="0.8"/>
<rect x="405.10" y="311.89" width="1.20" height="3.20" fill="#0000b4"/>
<rect x="406.80" y="311.89" width="1.20" height="3.20" fill="#0000b4"/>
<rect x="409.60" y="311.89" width="0.70" height="3.20" fill="#0000b4"/>
<rect x="412.90" y="311.89" width="1.80" height="3.20" fill="#0000b4"/>
<rect x="421.80" y="311.89" width="0.80" height="3.20" fill="#0000b4"/>
<rect x="457.30" y="272.00" width="1.10" height="3.00" fill="#0000b4"/>
<rect x="457.30" y="277.70" width="1.10" height="3.00" fill="#0000b4"/>
<rect x="479.90" y="271.20" width="1.90" height="3.40" fill="#0000b4"/>
<rect x="487.60" y="271.20" width="2.00" height="3.40" fill="#0000b4"/>
<rect x="490.20" y="271.20" width="1.80" height="3.40" fill="#0000b4"/>
<rect x="492.60" y="271.20" width="2.00" height="3.40" fill="#0000b4"/>
<rect x="495.20" y="271.20" width="3.20" height="3.40" fill="#0000b4"/>
<rect x="501.20" y="271.20" width="1.60" height="3.40" fill="#0000b4"/>
<line x1="479.90" y1="278.68" x2="498.40" y2="278.68" stroke="#2626cc" stroke-width="0.8"/>
<rect x="479.90" y="276.98" width="1.90" height="3.40" fill="#0000b4"/>
<rect x="482.40" y="276.98" width="2.00" height="3.40" fill="#0000b4"/>
<rect x="484.90" y="276.98" width="2.10" height="3.40" fill="#0000b4"/>
<rect x="487.60" y="276.98" width="2.00" height="3.40" fill="#0000b4"/>
<rect x="490.20" y="276.98" width="1.80" height="3.40" fill="#0000b4"/>
<rect x="492.60" y="276.98" width="2.00" height="3.40" fill="#0000b4"/>
<rect x="495.20" y="276.98" width="3.20" height="3.40" fill="#0000b4"/>
<line x1="479.90" y1="284.46" x2="498.40" y2="284.46" stroke="#2626cc" stroke-width="0.8"/>
<rect x="479.90" y="282.76" width="1.90" height="3.40" fill="#0000b4"/>
<rect x="482.40" y="282.76" width="2.00" height="3.40" fill="#0000b4"/>
<rect x="484.90" y="282.76" width="2.10" height="3.40" fill="#0000b4"/>
<rect x="487.60" y="282.76" width="2.00" height="3.40" fill="#0000b4"/>
<rect x="490.20" y="282.76" width="1.80" height="3.40" fill="#0000b4"/>
<rect x="492.60" y="282.76" width="2.00" height="3.40" fill="#0000b4"/>
<rect x="495.20" y="282.76" width="3.20" height="3.40" fill="#0000b4"/>
<line x1="479.90" y1="290.24" x2="498.40" y2="290.24" stroke="#2626cc" stroke-width="0.8"/>
<rect x="479.90" y="288.54" width="1.90" height="3.40" fill="#0000b4"/>
<rect x="482.40" y="288.54" width="2.00" height="3.40" fill="#0000b4"/>
<rect x="484.90" y="288.54" width="2.10" height="3.40" fill="#0000b4"/>
<rect x="487.60" y="288.54" width="2.00" height="3.40" fill="#0000b4"/>
<rect x="490.20" y="288.54" width="1.80" height="3.40" fill="#0000b4"/>
<rect x="492.60" y="288.54" width="2.00" height="3.40" fill="#0000b4"/>
<rect x="495.20" y="288.54" width="3.20" height="3.40" fill="#0000b4"/>
<rect x="480.20" y="294.32" width="1.60" height="3.40" fill="#0000b4"/>
<rect x="487.60" y="294.32" width="2.00" height="3.40" fill="#0000b4"/>
<rect x="490.20" y="294.32" width="1.80" height="3.40" fill="#0000b4"/>
<rect x="492.60" y="294.32" width="2.00" height="3.40" fill="#0000b4"/>
<rect x="495.20" y="294.32" width="3.20" height="3.40" fill="#0000b4"/>
<rect x="480.20" y="300.10" width="1.60" height="3.40" fill="#0000b4"/>
<rect x="487.60" y="300.10" width="2.00" height="3.40" fill="#0000b4"/>
<rect x="490.20" y="300.10" width="1.80" height="3.40" fill="#0000b4"/>
<rect x="492.60" y="300.10" width="2.00" height="3.40" fill="#0000b4"/>
<rect x="495.20" y="300.10" width="3.20" height="3.40" fill="#0000b4"/>
<line x1="487.60" y1="307.58" x2="498.40" y2="307.58" stroke="#2626cc" stroke-width="0.8"/>
<rect x="487.60" y="305.88" width="2.00" height="3.40" fill="#0000b4"/>
<rect x="490.20" y="305.88" width="1.80" height="3.40" fill="#0000b4"/>
<rect x="492.60" y="305.88" width="2.00" height="3.40" fill="#0000b4"/>
<rect x="495.20" y="305.88" width="3.20" height="3.40" fill="#0000b4"/>
<line x1="487.60" y1="313.36" x2="498.40" y2="313.36" stroke="#2626cc" stroke-width="0.8"/>
<rect x="487.60" y="311.66" width="2.00" height="3.40" fill="#0000b4"/>
<rect x="490.20" y="311.66" width="1.80" height="3.40" fill="#0000b4"/>
<rect x="492.60" y="311.66" width="2.00" height="3.40" fill="#0000b4"/>
<rect x="495.20" y="311.66" width="3.20" height="3.40" fill="#0000b4"/>
<line x1="487.60" y1="319.14" x2="498.40" y2="319.14" stroke="#2626cc" stroke-width="0.8"/>
<rect x="487.60" y="317.44" width="2.00" height="3.40" fill="#0000b4"/>
<rect x="490.20" y="317.44" width="1.80" height="3.40" fill="#0000b4"/>
<rect x="492.60" y="317.44" width="2.00" height="3.40" fill="#0000b4"/>
<rect x="495.20" y="317.44" width="3.20" height="3.40" fill="#0000b4"/>
<line x1="487.60" y1="324.92" x2="498.40" y2="324.92" stroke="#2626cc" stroke-width="0.8"/>
<rect x="487.60" y="323.22" width="2.00" height="3.40" fill="#0000b4"/>
<rect x="490.20" y="323.22" width="1.80" height="3.40" fill="#0000b4"/>
<rect x="492.60" y="323.22" width="2.00" height="3.40" fill="#0000b4"/>
<rect x="495.20" y="323.22" width="3.20" height="3.40" fill="#0000b4"/>
<line x1="487.60" y1="330.70" x2="498.40" y2="330.70" stroke="#2626cc" stroke-width="0.8"/>
<rect x="487.60" y="329.00" width="2.00" height="3.40" fill="#0000b4"/>
<rect x="490.20" y="329.00" width="1.80" height="3.40" fill="#0000b4"/>
<rect x="492.60" y="329.00" width="2.00" height="3.40" fill="#0000b4"/>
<rect x="495.20" y="329.00" width="3.20" height="3.40" fill="#0000b4"/>
<line x1="493.30" y1="336.48" x2="498.40" y2="336.48" stroke="#2626cc" stroke-width="0.8"/>
<rect x="493.30" y="334.78" width="2.10" height="3.40" fill="#0000b4"/>
<rect x="496.20" y="334.78" width="2.20" height="3.40" fill="#0000b4"/>
<line x1="493.30" y1="342.26" x2="498.40" y2="342.26" stroke="#2626cc" stroke-width="0.8"/>
<rect x="493.30" y="340.56" width="2.10" height="3.40" fill="#0000b4"/>
<rect x="496.20" y="340.56" width="2.20" height="3.40" fill="#0000b4"/>
<rect x="587.40" y="272.15" width="0.80" height="2.50" fill="#0000b4"/>
<rect x="602.00" y="272.15" width="0.80" height="2.50" fill="#0000b4"/>
<rect x="625.20" y="272.15" width="0.80" height="2.50" fill="#0000b4"/>
<line x1="645.40" y1="273.10" x2="652.00" y2="273.10" stroke="#2626cc" stroke-width="0.8"/>
<line x1="636.00" y1="273.10" x2="659.30" y2="273.10" stroke="#2626cc" stroke-width="0.8"/>
<rect x="645.40" y="271.60" width="2.00" height="3.00" fill="#0000b4"/>
<rect x="647.90" y="271.60" width="0.90" height="3.00" fill="#0000b4"/>
<rect x="649.60" y="271.60" width="2.40" height="3.00" fill="#0000b4"/>
<rect x="636.00" y="271.60" width="0.90" height="3.00" fill="#0000b4"/>
<rect x="640.50" y="271.60" width="2.10" height="3.00" fill="#0000b4"/>
<rect x="654.10" y="271.60" width="5.20" height="3.00" fill="#0000b4"/>
<line x1="645.40" y1="278.87" x2="652.00" y2="278.87" stroke="#2626cc" stroke-width="0.8"/>
<line x1="637.40" y1="278.87" x2="645.40" y2="278.87" stroke="#2626cc" stroke-width="0.8"/>
<rect x="645.40" y="277.37" width="2.00" height="3.00" fill="#0000b4"/>
<rect x="647.90" y="277.37" width="0.90" height="3.00" fill="#0000b4"/>
<rect x="649.60" y="277.37" width="2.40" height="3.00" fill="#0000b4"/>
<rect x="637.40" y="277.37" width="0.80" height="3.00" fill="#0000b4"/>
<rect x="640.50" y="277.37" width="2.10" height="3.00" fill="#0000b4"/>
<line x1="645.40" y1="284.64" x2="652.00" y2="284.64" stroke="#2626cc" stroke-width="0.8"/>
<line x1="640.60" y1="284.64" x2="645.40" y2="284.64" stroke="#2626cc" stroke-width="0.8"/>
<rect x="645.40" y="283.14" width="2.00" height="3.00" fill="#0000b4"/>
<rect x="647.90" y="283.14" width="0.90" height="3.00" fill="#0000b4"/>
<rect x="649.60" y="283.14" width="2.40" height="3.00" fill="#0000b4"/>
<rect x="640.60" y="283.14" width="1.80" height="3.00" fill="#0000b4"/>
<line x1="645.40" y1="290.41" x2="652.00" y2="290.41" stroke="#2626cc" stroke-width="0.8"/>
<line x1="640.60" y1="290.41" x2="645.40" y2="290.41" stroke="#2626cc" stroke-width="0.8"/>
<rect x="645.40" y="288.91" width="2.00" height="3.00" fill="#0000b4"/>
<rect x="647.90" y="288.91" width="0.90" height="3.00" fill="#0000b4"/>
<rect x="649.60" y="288.91" width="2.40" height="3.00" fill="#0000b4"/>
<rect x="640.60" y="288.91" width="1.80" height="3.00" fill="#0000b4"/>
<line x1="645.40" y1="296.18" x2="652.00" y2="296.18" stroke="#2626cc" stroke-width="0.8"/>
<rect x="645.40" y="294.68" width="2.00" height="3.00" fill="#0000b4"/>
<rect x="647.90" y="294.68" width="0.90" height="3.00" fill="#0000b4"/>
<rect x="649.60" y="294.68" width="2.40" height="3.00" fill="#0000b4"/>
<line x1="645.40" y1="301.95" x2="652.00" y2="301.95" stroke="#2626cc" stroke-width="0.8"/>
<rect x="645.40" y="300.45" width="2.00" height="3.00" fill="#0000b4"/>
<rect x="647.90" y="300.45" width="0.90" height="3.00" fill="#0000b4"/>
<rect x="649.60" y="300.45" width="2.40" height="3.00" fill="#0000b4"/>
<line x1="645.40" y1="307.72" x2="652.00" y2="307.72" stroke="#2626cc" stroke-width="0.8"/>
<rect x="645.40" y="306.22" width="2.00" height="3.00" fill="#0000b4"/>
<rect x="647.90" y="306.22" width="0.90" height="3.00" fill="#0000b4"/>
<rect x="649.60" y="306.22" width="2.40" height="3.00" fill="#0000b4"/>
<line x1="645.40" y1="313.49" x2="652.00" y2="313.49" stroke="#2626cc" stroke-width="0.8"/>
<rect x="645.40" y="311.99" width="2.00" height="3.00" fill="#0000b4"/>
<rect x="647.90" y="311.99" width="0.90" height="3.00" fill="#0000b4"/>
<rect x="649.60" y="311.99" width="2.40" height="3.00" fill="#0000b4"/>
<line x1="645.40" y1="319.26" x2="652.00" y2="319.26" stroke="#2626cc" stroke-width="0.8"/>
<rect x="645.40" y="317.76" width="2.00" height="3.00" fill="#0000b4"/>
<rect x="647.90" y="317.76" width="0.90" height="3.00" fill="#0000b4"/>
<rect x="649.60" y="317.76" width="2.40" height="3.00" fill="#0000b4"/>
<text x="96" y="345" font-size="6.4" fill="#2a2a2a" stroke="#2a2a2a" stroke-width="0.1">Collagen alpha-1(V)</text>
<text x="151" y="295.7" font-size="6.4" fill="#2a2a2a" stroke="#2a2a2a" stroke-width="0.1">Unknown ORF</text>
<text x="185.7" y="314" font-size="6.4" fill="#2a2a2a" stroke="#2a2a2a" stroke-width="0.1">Olfactomedin 1</text>
<text x="339.3" y="328" font-size="6.4" fill="#2a2a2a" stroke="#2a2a2a" stroke-width="0.1">28S rRNA</text>
<text x="364.5" y="293.6" font-size="6.4" fill="#2a2a2a" stroke="#2a2a2a" stroke-width="0.1">fam69b</text>
<text x="400.2" y="327.3" font-size="6.4" fill="#2a2a2a" stroke="#2a2a2a" stroke-width="0.1">egf domain</text>
<text x="451" y="294.3" font-size="6.4" fill="#2a2a2a" stroke="#2a2a2a" stroke-width="0.1">tinp1</text>
<text x="479.3" y="350.2" font-size="6.4" fill="#2a2a2a" stroke="#2a2a2a" stroke-width="0.1">enc1</text>
<text x="498" y="357" font-size="6.4" fill="#2a2a2a" stroke="#2a2a2a" stroke-width="0.1">nsa2</text>
<text x="567.2" y="333" font-size="6.4" fill="#2a2a2a" stroke="#2a2a2a" stroke-width="0.1">serine/threonine-protein kinase</text>
<rect x="667.2" y="267.6" width="4.2" height="38" rx="2" fill="#c6c6c6"/>
<line x1="3.6" y1="4.5" x2="85" y2="4.5" stroke="#ffffff" stroke-width="1"/>
<line x1="3.6" y1="4" x2="3.6" y2="363.2" stroke="#ffffff" stroke-width="1"/>
<line x1="3.6" y1="363.2" x2="85" y2="363.2" stroke="#ffffff" stroke-width="1"/>
<line x1="3.6" y1="71.5" x2="85" y2="71.5" stroke="#ffffff" stroke-width="1"/>
<line x1="3.6" y1="267.9" x2="85" y2="267.9" stroke="#ffffff" stroke-width="1"/>
<line x1="2.5" y1="3" x2="2.5" y2="364.5" stroke="#a8a8a8" stroke-width="1"/>
<line x1="2" y1="364.3" x2="672.8" y2="364.3" stroke="#a8a8a8" stroke-width="1"/>
<line x1="84.4" y1="4" x2="84.4" y2="363" stroke="#ffffff" stroke-width="1"/>
<line x1="85.5" y1="2" x2="85.5" y2="264.4" stroke="#686868" stroke-width="1.05"/>
<line x1="85.5" y1="266.3" x2="85.5" y2="364.5" stroke="#686868" stroke-width="1.05"/>
<line x1="88.5" y1="2" x2="88.5" y2="364.5" stroke="#7e7e7e" stroke-width="1.05"/>
<line x1="91.6" y1="2" x2="91.6" y2="364.5" stroke="#c4c4c4" stroke-width="1"/>
<line x1="664.5" y1="2" x2="664.5" y2="364.5" stroke="#8c8c8c" stroke-width="1"/>
<line x1="672.5" y1="2" x2="672.5" y2="364.5" stroke="#c8c8c8" stroke-width="0.9"/>
<line x1="2" y1="2.5" x2="672.8" y2="2.5" stroke="#505050" stroke-width="1"/>
<line x1="2" y1="3.5" x2="672.8" y2="3.5" stroke="#b8b8b8" stroke-width="1"/>
<line x1="2" y1="70.15" x2="85.5" y2="70.15" stroke="#585858" stroke-width="1.5"/>
<line x1="85.5" y1="70.3" x2="92" y2="70.3" stroke="#8a8a8a" stroke-width="0.8"/>
<line x1="92" y1="70.5" x2="664.6" y2="70.5" stroke="#585858" stroke-width="1.3"/>
<line x1="2" y1="263.9" x2="86" y2="263.9" stroke="#585858" stroke-width="1.1"/>
<line x1="2" y1="266.8" x2="86" y2="266.8" stroke="#585858" stroke-width="1.1"/>
<line x1="91.1" y1="263.8" x2="672.8" y2="263.8" stroke="#585858" stroke-width="1.1"/>
<line x1="91.1" y1="266.5" x2="672.8" y2="266.5" stroke="#585858" stroke-width="1.1"/>
<text x="12.9" y="95.7" font-size="9.4" fill="#111" stroke="#111" stroke-width="0.2"><tspan font-style="italic">E</tspan> Methylation</text>
<text x="12.9" y="123.8" font-size="9.4" fill="#111" stroke="#111" stroke-width="0.2"><tspan font-style="italic">E</tspan> Expression</text>
<text x="8.9" y="158.1" font-size="9.4" fill="#111" stroke="#111" stroke-width="0.2"><tspan font-style="italic">EPH</tspan> Methylation</text>
<text x="8.9" y="186.3" font-size="9.4" fill="#111" stroke="#111" stroke-width="0.2"><tspan font-style="italic">EPH</tspan> Expression</text>
<text x="9.3" y="222.0" font-size="9.4" fill="#111" stroke="#111" stroke-width="0.2"><tspan font-style="italic">PH</tspan> Methylation</text>
<text x="9.3" y="248.6" font-size="9.4" fill="#111" stroke="#111" stroke-width="0.2"><tspan font-style="italic">PH</tspan> Expression</text>
<text x="4.5" y="319" font-size="10.5" fill="#111" stroke="#111" stroke-width="0.2">Genes</text>
</svg>
</body></html>
